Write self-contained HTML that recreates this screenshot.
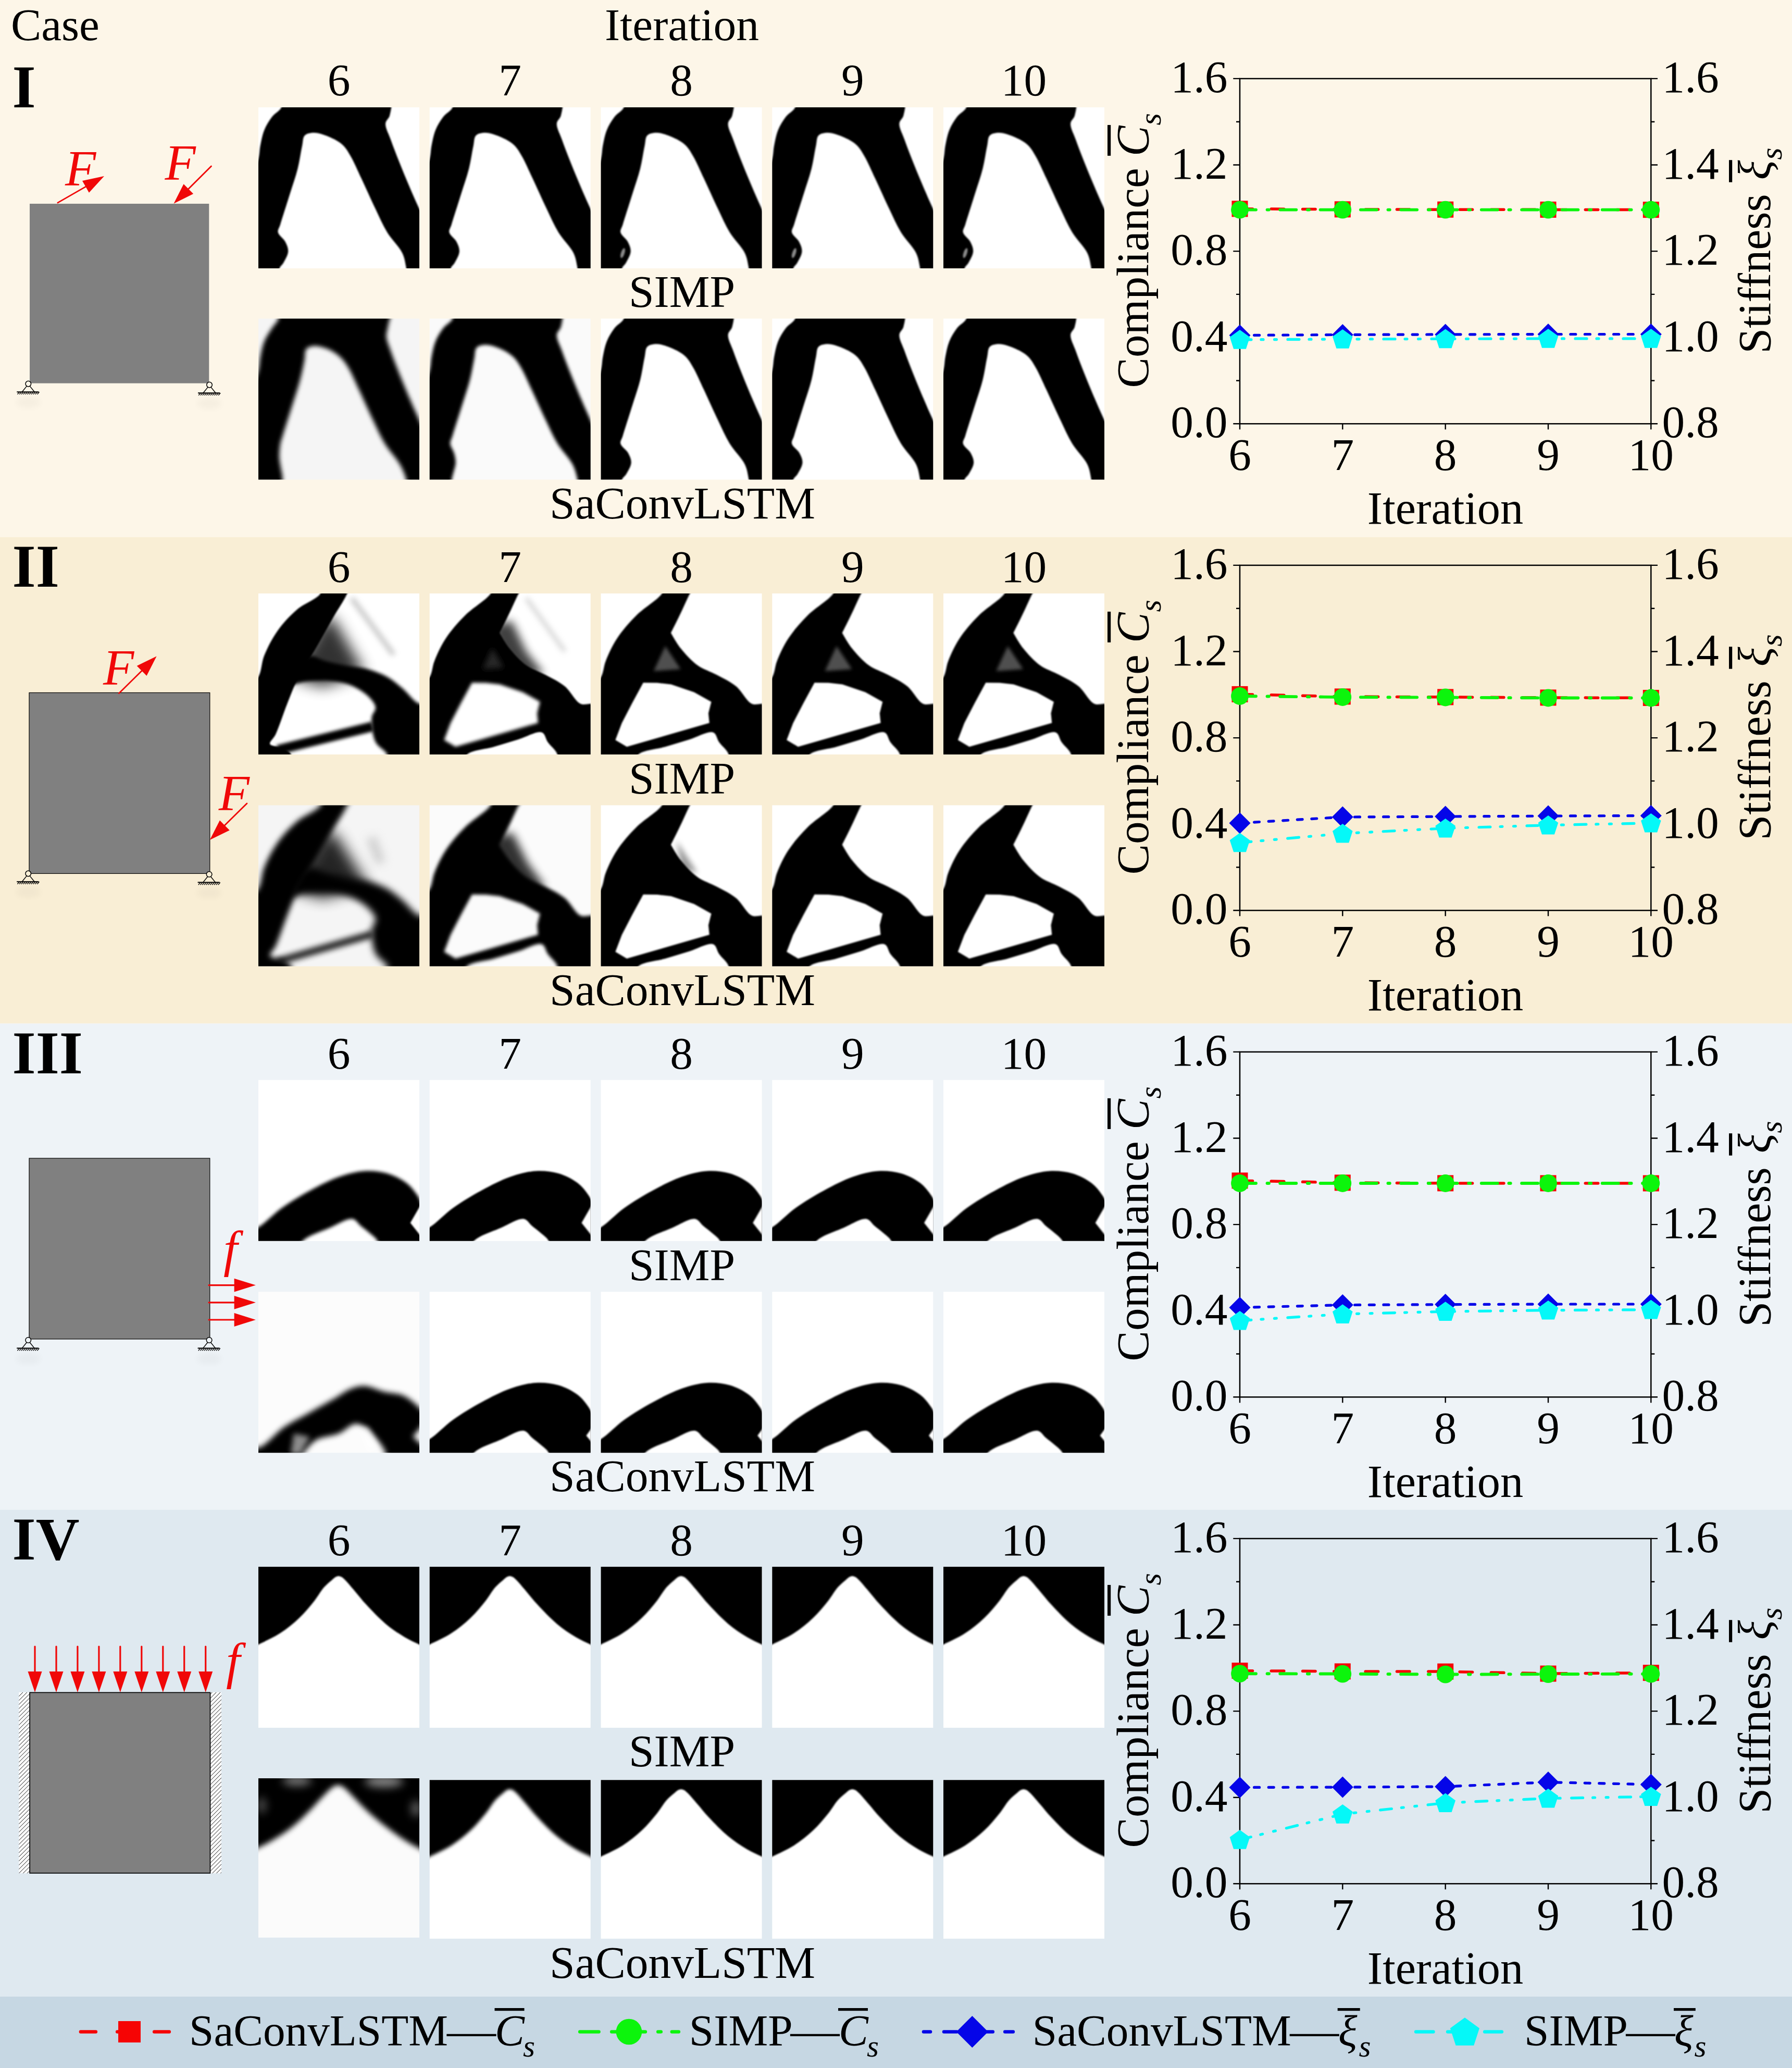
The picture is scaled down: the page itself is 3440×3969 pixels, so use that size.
<!DOCTYPE html>
<html><head><meta charset="utf-8"><title>Figure</title><style>html,body{margin:0;padding:0;background:#fff;width:3440px;height:3969px;overflow:hidden}svg{display:block}</style></head><body>
<svg width="3440" height="3969" viewBox="0 0 3440 3969" font-family="'Liberation Serif', serif" font-size="87.4" fill="#000">
<defs>
<filter id="b1" x="-10%" y="-10%" width="120%" height="120%"><feGaussianBlur stdDeviation="1.6"/></filter>
<filter id="b2" x="-10%" y="-10%" width="120%" height="120%"><feGaussianBlur stdDeviation="3"/></filter>
<filter id="b3" x="-20%" y="-20%" width="140%" height="140%"><feGaussianBlur stdDeviation="6"/></filter>
<filter id="b4" x="-20%" y="-20%" width="140%" height="140%"><feGaussianBlur stdDeviation="10"/></filter>
<filter id="b5" x="-30%" y="-30%" width="160%" height="160%"><feGaussianBlur stdDeviation="16"/></filter>
<filter id="t1" filterUnits="userSpaceOnUse" x="-30" y="-30" width="160" height="160"><feGaussianBlur stdDeviation="0.55"/></filter>
<filter id="t2" filterUnits="userSpaceOnUse" x="-30" y="-30" width="160" height="160"><feGaussianBlur stdDeviation="1.0"/></filter>
<filter id="t2b" filterUnits="userSpaceOnUse" x="-30" y="-30" width="160" height="160"><feGaussianBlur stdDeviation="1.35"/></filter>
<filter id="t3" filterUnits="userSpaceOnUse" x="-30" y="-30" width="160" height="160"><feGaussianBlur stdDeviation="1.7"/></filter>
<filter id="t3b" filterUnits="userSpaceOnUse" x="-30" y="-30" width="160" height="160"><feGaussianBlur stdDeviation="2.2"/></filter>
<filter id="t4" filterUnits="userSpaceOnUse" x="-30" y="-30" width="160" height="160"><feGaussianBlur stdDeviation="2.8"/></filter>
<filter id="t5" filterUnits="userSpaceOnUse" x="-30" y="-30" width="160" height="160"><feGaussianBlur stdDeviation="4.5"/></filter>
<pattern id="hatch" width="7.9" height="7.9" patternUnits="userSpaceOnUse" x="36" y="3248"><rect width="7.9" height="7.9" fill="#fff"/><path d="M-1,8.9 L8.9,-1 M-1,1 L1,-1 M6.9,8.9 L8.9,6.9" stroke="#000" stroke-width="0.95"/></pattern>
</defs>
<rect x="0" y="0" width="3440" height="1031" fill="#FDF6E8"/>
<rect x="0" y="1031" width="3440" height="933.5" fill="#F9EED5"/>
<rect x="0" y="1964.5" width="3440" height="933.0" fill="#EEF3F7"/>
<rect x="0" y="2897.5" width="3440" height="934.5" fill="#DFE9F0"/>
<rect x="0" y="3832" width="3440" height="137" fill="#C6D7E3"/>
<text x="21" y="76.5" text-anchor="start" >Case</text>
<text x="1309" y="76.5" text-anchor="middle" >Iteration</text>
<text x="23.5" y="205.6" text-anchor="start" font-weight="bold" font-size="116">I</text>
<text x="650.5" y="183.4" text-anchor="middle" >6</text>
<text x="979.2" y="183.4" text-anchor="middle" >7</text>
<text x="1308.0" y="183.4" text-anchor="middle" >8</text>
<text x="1636.8" y="183.4" text-anchor="middle" >9</text>
<text x="1965.5" y="183.4" text-anchor="middle" >10</text>
<text x="1309" y="589.0" text-anchor="middle" >SIMP</text>
<text x="1310" y="995.3" text-anchor="middle" >SaConvLSTM</text>
<svg x="496" y="206" width="309" height="309" viewBox="0 0 100 100" preserveAspectRatio="none"><rect x="-1" y="-1" width="102" height="102" fill="#fff"/><path d="M14.30,-6.00 C17.76,-9.46 38.48,-6.00 50.00,-6.00 C60.80,-6.00 77.44,-9.89 81.40,-6.00 C83.75,-3.70 82.28,2.11 81.60,5.00 C81.11,7.07 79.17,7.99 79.00,10.00 C78.76,12.78 80.87,16.27 82.30,20.30 C84.39,26.19 87.76,34.67 90.70,41.80 C93.66,48.97 96.77,56.15 100.00,63.20 C103.21,70.21 108.28,76.47 110.00,84.00 C111.82,91.99 113.84,106.16 110.00,110.00 C106.94,113.06 96.30,112.39 93.50,110.00 C91.31,108.13 92.58,103.26 91.90,100.00 C91.24,96.83 91.01,93.91 89.50,90.70 C87.54,86.53 82.79,82.19 80.00,77.60 C77.22,73.02 75.28,68.35 72.80,63.20 C69.97,57.32 66.75,50.03 64.00,44.20 C61.64,39.20 59.53,34.07 57.30,30.30 C55.63,27.49 54.44,25.26 52.30,23.30 C50.01,21.20 46.78,19.55 43.80,18.30 C40.87,17.07 37.31,15.77 34.60,15.80 C32.44,15.82 30.04,16.21 28.80,17.50 C27.51,18.85 27.77,21.33 27.20,23.90 C26.35,27.71 25.62,33.37 24.40,38.20 C23.12,43.30 21.30,48.27 19.60,53.70 C17.72,59.74 14.89,68.54 13.60,72.80 C12.96,74.93 11.90,75.99 12.20,77.60 C12.56,79.56 15.64,81.42 16.70,83.50 C17.67,85.41 18.61,87.43 18.50,89.50 C18.38,91.81 16.56,94.81 15.50,96.70 C14.73,98.07 13.68,98.50 13.10,100.00 C12.19,102.35 14.22,108.01 12.00,110.00 C8.72,112.94 -5.59,114.41 -10.00,110.00 C-16.65,103.35 -12.45,74.06 -10.00,60.00 C-8.12,49.19 -1.65,38.81 0.00,32.20 C0.88,28.68 0.64,26.75 1.20,23.90 C1.81,20.80 2.38,17.30 3.60,14.30 C4.80,11.34 6.54,8.44 8.40,6.00 C10.14,3.71 13.40,2.20 14.30,0.00 C15.06,-1.86 12.88,-4.58 14.30,-6.00 Z" fill="#000" filter="url(#t1)"/></svg>
<svg x="496" y="611.5" width="309" height="309" viewBox="0 0 100 100" preserveAspectRatio="none"><rect x="-1" y="-1" width="102" height="102" fill="#f5f5f5"/><path d="M12.50,-6.00 C16.07,-9.57 38.05,-6.00 50.00,-6.00 C60.93,-6.00 77.82,-9.88 81.40,-6.00 C83.52,-3.70 80.89,1.89 80.50,5.00 C80.21,7.31 79.36,8.80 79.50,11.00 C79.68,13.78 81.02,16.59 82.30,20.30 C84.27,26.02 87.76,34.67 90.70,41.80 C93.66,48.97 96.77,56.15 100.00,63.20 C103.21,70.21 108.28,76.47 110.00,84.00 C111.82,91.99 113.84,106.16 110.00,110.00 C106.94,113.06 96.30,112.39 93.50,110.00 C91.31,108.13 92.82,103.22 91.90,100.00 C90.98,96.79 89.83,93.95 88.00,90.70 C85.68,86.58 81.29,82.19 78.50,77.60 C75.72,73.02 73.78,68.35 71.30,63.20 C68.47,57.32 65.25,50.03 62.50,44.20 C60.14,39.20 58.07,33.95 55.80,30.30 C54.15,27.65 52.78,25.74 50.80,23.90 C48.79,22.03 46.41,20.34 43.80,19.20 C41.04,17.99 37.16,16.80 34.60,17.00 C32.68,17.15 30.70,17.73 29.70,19.00 C28.59,20.40 29.17,22.91 28.70,25.40 C28.04,28.94 27.07,33.76 25.90,38.20 C24.60,43.15 22.80,48.27 21.10,53.70 C19.22,59.74 16.39,68.54 15.10,72.80 C14.46,74.93 14.04,75.76 13.70,77.60 C13.26,79.99 12.92,83.33 13.00,86.00 C13.07,88.44 13.67,90.67 14.00,93.00 C14.33,95.33 15.19,97.48 15.00,100.00 C14.77,103.06 14.65,108.03 12.00,110.00 C8.15,112.87 -5.59,114.41 -10.00,110.00 C-16.65,103.35 -12.45,74.06 -10.00,60.00 C-8.12,49.19 -1.65,38.81 0.00,32.20 C0.88,28.68 0.64,26.75 1.20,23.90 C1.81,20.80 2.38,17.30 3.60,14.30 C4.80,11.34 6.82,8.52 8.40,6.00 C9.78,3.81 11.85,2.11 12.50,0.00 C13.09,-1.91 11.07,-4.57 12.50,-6.00 Z" fill="#000" filter="url(#t2b)"/></svg>
<svg x="824.7" y="206" width="309" height="309" viewBox="0 0 100 100" preserveAspectRatio="none"><rect x="-1" y="-1" width="102" height="102" fill="#fff"/><path d="M14.30,-6.00 C17.76,-9.46 38.48,-6.00 50.00,-6.00 C60.80,-6.00 77.44,-9.89 81.40,-6.00 C83.75,-3.70 82.28,2.11 81.60,5.00 C81.11,7.07 79.17,7.99 79.00,10.00 C78.76,12.78 80.87,16.27 82.30,20.30 C84.39,26.19 87.76,34.67 90.70,41.80 C93.66,48.97 96.77,56.15 100.00,63.20 C103.21,70.21 108.28,76.47 110.00,84.00 C111.82,91.99 113.84,106.16 110.00,110.00 C106.94,113.06 96.30,112.39 93.50,110.00 C91.31,108.13 92.58,103.26 91.90,100.00 C91.24,96.83 91.01,93.91 89.50,90.70 C87.54,86.53 82.79,82.19 80.00,77.60 C77.22,73.02 75.28,68.35 72.80,63.20 C69.97,57.32 66.75,50.03 64.00,44.20 C61.64,39.20 59.53,34.07 57.30,30.30 C55.63,27.49 54.44,25.26 52.30,23.30 C50.01,21.20 46.78,19.55 43.80,18.30 C40.87,17.07 37.31,15.77 34.60,15.80 C32.44,15.82 30.04,16.21 28.80,17.50 C27.51,18.85 27.77,21.33 27.20,23.90 C26.35,27.71 25.62,33.37 24.40,38.20 C23.12,43.30 21.30,48.27 19.60,53.70 C17.72,59.74 14.89,68.54 13.60,72.80 C12.96,74.93 11.90,75.99 12.20,77.60 C12.56,79.56 15.64,81.42 16.70,83.50 C17.67,85.41 18.61,87.43 18.50,89.50 C18.38,91.81 16.56,94.81 15.50,96.70 C14.73,98.07 13.68,98.50 13.10,100.00 C12.19,102.35 14.22,108.01 12.00,110.00 C8.72,112.94 -5.59,114.41 -10.00,110.00 C-16.65,103.35 -12.45,74.06 -10.00,60.00 C-8.12,49.19 -1.65,38.81 0.00,32.20 C0.88,28.68 0.64,26.75 1.20,23.90 C1.81,20.80 2.38,17.30 3.60,14.30 C4.80,11.34 6.54,8.44 8.40,6.00 C10.14,3.71 13.40,2.20 14.30,0.00 C15.06,-1.86 12.88,-4.58 14.30,-6.00 Z" fill="#000" filter="url(#t1)"/></svg>
<svg x="824.7" y="611.5" width="309" height="309" viewBox="0 0 100 100" preserveAspectRatio="none"><rect x="-1" y="-1" width="102" height="102" fill="#fafafa"/><path d="M14.30,-6.00 C17.76,-9.46 38.48,-6.00 50.00,-6.00 C60.80,-6.00 77.44,-9.89 81.40,-6.00 C83.75,-3.70 82.28,2.11 81.60,5.00 C81.11,7.07 79.17,7.99 79.00,10.00 C78.76,12.78 80.87,16.27 82.30,20.30 C84.39,26.19 87.76,34.67 90.70,41.80 C93.66,48.97 96.77,56.15 100.00,63.20 C103.21,70.21 108.28,76.47 110.00,84.00 C111.82,91.99 113.84,106.16 110.00,110.00 C106.94,113.06 96.30,112.39 93.50,110.00 C91.31,108.13 92.68,103.24 91.90,100.00 C91.14,96.81 90.54,93.93 88.90,90.70 C86.79,86.55 82.19,82.19 79.40,77.60 C76.62,73.02 74.68,68.35 72.20,63.20 C69.37,57.32 66.15,50.03 63.40,44.20 C61.04,39.20 58.95,34.02 56.70,30.30 C55.04,27.55 53.78,25.45 51.70,23.54 C49.52,21.53 46.63,19.87 43.80,18.66 C40.94,17.44 37.25,16.19 34.60,16.28 C32.54,16.35 30.30,16.82 29.16,18.10 C27.94,19.47 28.33,21.96 27.80,24.50 C27.03,28.21 26.20,33.52 25.00,38.20 C23.71,43.24 21.90,48.27 20.20,53.70 C18.32,59.74 15.49,68.54 14.20,72.80 C13.56,74.93 12.72,75.93 12.80,77.60 C12.89,79.48 14.62,81.49 15.19,83.50 C15.74,85.46 16.24,87.42 16.18,89.50 C16.10,91.80 14.99,94.76 14.53,96.70 C14.21,98.01 13.99,98.60 13.70,100.00 C13.19,102.43 14.35,108.01 12.00,110.00 C8.54,112.92 -5.59,114.41 -10.00,110.00 C-16.65,103.35 -12.45,74.06 -10.00,60.00 C-8.12,49.19 -1.65,38.81 0.00,32.20 C0.88,28.68 0.64,26.75 1.20,23.90 C1.81,20.80 2.38,17.30 3.60,14.30 C4.80,11.34 6.54,8.44 8.40,6.00 C10.14,3.71 13.40,2.20 14.30,0.00 C15.06,-1.86 12.88,-4.58 14.30,-6.00 Z" fill="#000" filter="url(#t2)"/></svg>
<svg x="1153.5" y="206" width="309" height="309" viewBox="0 0 100 100" preserveAspectRatio="none"><rect x="-1" y="-1" width="102" height="102" fill="#fff"/><path d="M14.30,-6.00 C17.76,-9.46 38.48,-6.00 50.00,-6.00 C60.80,-6.00 77.44,-9.89 81.40,-6.00 C83.75,-3.70 82.28,2.11 81.60,5.00 C81.11,7.07 79.17,7.99 79.00,10.00 C78.76,12.78 80.87,16.27 82.30,20.30 C84.39,26.19 87.76,34.67 90.70,41.80 C93.66,48.97 96.77,56.15 100.00,63.20 C103.21,70.21 108.28,76.47 110.00,84.00 C111.82,91.99 113.84,106.16 110.00,110.00 C106.94,113.06 96.30,112.39 93.50,110.00 C91.31,108.13 92.58,103.26 91.90,100.00 C91.24,96.83 91.01,93.91 89.50,90.70 C87.54,86.53 82.79,82.19 80.00,77.60 C77.22,73.02 75.28,68.35 72.80,63.20 C69.97,57.32 66.75,50.03 64.00,44.20 C61.64,39.20 59.53,34.07 57.30,30.30 C55.63,27.49 54.44,25.26 52.30,23.30 C50.01,21.20 46.78,19.55 43.80,18.30 C40.87,17.07 37.31,15.77 34.60,15.80 C32.44,15.82 30.04,16.21 28.80,17.50 C27.51,18.85 27.77,21.33 27.20,23.90 C26.35,27.71 25.62,33.37 24.40,38.20 C23.12,43.30 21.30,48.27 19.60,53.70 C17.72,59.74 14.89,68.54 13.60,72.80 C12.96,74.93 11.90,75.99 12.20,77.60 C12.56,79.56 15.64,81.42 16.70,83.50 C17.67,85.41 18.61,87.43 18.50,89.50 C18.38,91.81 16.56,94.81 15.50,96.70 C14.73,98.07 13.68,98.50 13.10,100.00 C12.19,102.35 14.22,108.01 12.00,110.00 C8.72,112.94 -5.59,114.41 -10.00,110.00 C-16.65,103.35 -12.45,74.06 -10.00,60.00 C-8.12,49.19 -1.65,38.81 0.00,32.20 C0.88,28.68 0.64,26.75 1.20,23.90 C1.81,20.80 2.38,17.30 3.60,14.30 C4.80,11.34 6.54,8.44 8.40,6.00 C10.14,3.71 13.40,2.20 14.30,0.00 C15.06,-1.86 12.88,-4.58 14.30,-6.00 Z" fill="#000" filter="url(#t1)"/><ellipse cx="13.6" cy="90.5" rx="1.1" ry="3.2" transform="rotate(18 13.6 90.5)" fill="#8a8a8a" filter="url(#t1)"/></svg>
<svg x="1153.5" y="611.5" width="309" height="309" viewBox="0 0 100 100" preserveAspectRatio="none"><rect x="-1" y="-1" width="102" height="102" fill="#fff"/><path d="M14.30,-6.00 C17.76,-9.46 38.48,-6.00 50.00,-6.00 C60.80,-6.00 77.44,-9.89 81.40,-6.00 C83.75,-3.70 82.28,2.11 81.60,5.00 C81.11,7.07 79.17,7.99 79.00,10.00 C78.76,12.78 80.87,16.27 82.30,20.30 C84.39,26.19 87.76,34.67 90.70,41.80 C93.66,48.97 96.77,56.15 100.00,63.20 C103.21,70.21 108.28,76.47 110.00,84.00 C111.82,91.99 113.84,106.16 110.00,110.00 C106.94,113.06 96.30,112.39 93.50,110.00 C91.31,108.13 92.58,103.26 91.90,100.00 C91.24,96.83 91.01,93.91 89.50,90.70 C87.54,86.53 82.79,82.19 80.00,77.60 C77.22,73.02 75.28,68.35 72.80,63.20 C69.97,57.32 66.75,50.03 64.00,44.20 C61.64,39.20 59.53,34.07 57.30,30.30 C55.63,27.49 54.44,25.26 52.30,23.30 C50.01,21.20 46.78,19.55 43.80,18.30 C40.87,17.07 37.31,15.77 34.60,15.80 C32.44,15.82 30.04,16.21 28.80,17.50 C27.51,18.85 27.77,21.33 27.20,23.90 C26.35,27.71 25.62,33.37 24.40,38.20 C23.12,43.30 21.30,48.27 19.60,53.70 C17.72,59.74 14.89,68.54 13.60,72.80 C12.96,74.93 11.88,76.00 12.20,77.60 C12.59,79.57 15.82,81.41 16.94,83.50 C17.95,85.40 18.94,87.43 18.82,89.50 C18.70,91.81 16.80,94.82 15.68,96.70 C14.86,98.07 13.71,98.49 13.10,100.00 C12.15,102.34 14.22,108.01 12.00,110.00 C8.72,112.94 -5.59,114.41 -10.00,110.00 C-16.65,103.35 -12.45,74.06 -10.00,60.00 C-8.12,49.19 -1.65,38.81 0.00,32.20 C0.88,28.68 0.64,26.75 1.20,23.90 C1.81,20.80 2.38,17.30 3.60,14.30 C4.80,11.34 6.54,8.44 8.40,6.00 C10.14,3.71 13.40,2.20 14.30,0.00 C15.06,-1.86 12.88,-4.58 14.30,-6.00 Z" fill="#000" filter="url(#t1)"/></svg>
<svg x="1482.3" y="206" width="309" height="309" viewBox="0 0 100 100" preserveAspectRatio="none"><rect x="-1" y="-1" width="102" height="102" fill="#fff"/><path d="M14.30,-6.00 C17.76,-9.46 38.48,-6.00 50.00,-6.00 C60.80,-6.00 77.44,-9.89 81.40,-6.00 C83.75,-3.70 82.28,2.11 81.60,5.00 C81.11,7.07 79.17,7.99 79.00,10.00 C78.76,12.78 80.87,16.27 82.30,20.30 C84.39,26.19 87.76,34.67 90.70,41.80 C93.66,48.97 96.77,56.15 100.00,63.20 C103.21,70.21 108.28,76.47 110.00,84.00 C111.82,91.99 113.84,106.16 110.00,110.00 C106.94,113.06 96.30,112.39 93.50,110.00 C91.31,108.13 92.58,103.26 91.90,100.00 C91.24,96.83 91.01,93.91 89.50,90.70 C87.54,86.53 82.79,82.19 80.00,77.60 C77.22,73.02 75.28,68.35 72.80,63.20 C69.97,57.32 66.75,50.03 64.00,44.20 C61.64,39.20 59.53,34.07 57.30,30.30 C55.63,27.49 54.44,25.26 52.30,23.30 C50.01,21.20 46.78,19.55 43.80,18.30 C40.87,17.07 37.31,15.77 34.60,15.80 C32.44,15.82 30.04,16.21 28.80,17.50 C27.51,18.85 27.77,21.33 27.20,23.90 C26.35,27.71 25.62,33.37 24.40,38.20 C23.12,43.30 21.30,48.27 19.60,53.70 C17.72,59.74 14.89,68.54 13.60,72.80 C12.96,74.93 11.90,75.99 12.20,77.60 C12.56,79.56 15.64,81.42 16.70,83.50 C17.67,85.41 18.61,87.43 18.50,89.50 C18.38,91.81 16.56,94.81 15.50,96.70 C14.73,98.07 13.68,98.50 13.10,100.00 C12.19,102.35 14.22,108.01 12.00,110.00 C8.72,112.94 -5.59,114.41 -10.00,110.00 C-16.65,103.35 -12.45,74.06 -10.00,60.00 C-8.12,49.19 -1.65,38.81 0.00,32.20 C0.88,28.68 0.64,26.75 1.20,23.90 C1.81,20.80 2.38,17.30 3.60,14.30 C4.80,11.34 6.54,8.44 8.40,6.00 C10.14,3.71 13.40,2.20 14.30,0.00 C15.06,-1.86 12.88,-4.58 14.30,-6.00 Z" fill="#000" filter="url(#t1)"/><ellipse cx="13.6" cy="90.5" rx="1.1" ry="3.2" transform="rotate(18 13.6 90.5)" fill="#8a8a8a" filter="url(#t1)"/></svg>
<svg x="1482.3" y="611.5" width="309" height="309" viewBox="0 0 100 100" preserveAspectRatio="none"><rect x="-1" y="-1" width="102" height="102" fill="#fff"/><path d="M14.30,-6.00 C17.76,-9.46 38.48,-6.00 50.00,-6.00 C60.80,-6.00 77.44,-9.89 81.40,-6.00 C83.75,-3.70 82.28,2.11 81.60,5.00 C81.11,7.07 79.17,7.99 79.00,10.00 C78.76,12.78 80.87,16.27 82.30,20.30 C84.39,26.19 87.76,34.67 90.70,41.80 C93.66,48.97 96.77,56.15 100.00,63.20 C103.21,70.21 108.28,76.47 110.00,84.00 C111.82,91.99 113.84,106.16 110.00,110.00 C106.94,113.06 96.30,112.39 93.50,110.00 C91.31,108.13 92.58,103.26 91.90,100.00 C91.24,96.83 91.01,93.91 89.50,90.70 C87.54,86.53 82.79,82.19 80.00,77.60 C77.22,73.02 75.28,68.35 72.80,63.20 C69.97,57.32 66.75,50.03 64.00,44.20 C61.64,39.20 59.53,34.07 57.30,30.30 C55.63,27.49 54.44,25.26 52.30,23.30 C50.01,21.20 46.78,19.55 43.80,18.30 C40.87,17.07 37.31,15.77 34.60,15.80 C32.44,15.82 30.04,16.21 28.80,17.50 C27.51,18.85 27.77,21.33 27.20,23.90 C26.35,27.71 25.62,33.37 24.40,38.20 C23.12,43.30 21.30,48.27 19.60,53.70 C17.72,59.74 14.89,68.54 13.60,72.80 C12.96,74.93 11.88,76.00 12.20,77.60 C12.59,79.57 15.82,81.41 16.94,83.50 C17.95,85.40 18.94,87.43 18.82,89.50 C18.70,91.81 16.80,94.82 15.68,96.70 C14.86,98.07 13.71,98.49 13.10,100.00 C12.15,102.34 14.22,108.01 12.00,110.00 C8.72,112.94 -5.59,114.41 -10.00,110.00 C-16.65,103.35 -12.45,74.06 -10.00,60.00 C-8.12,49.19 -1.65,38.81 0.00,32.20 C0.88,28.68 0.64,26.75 1.20,23.90 C1.81,20.80 2.38,17.30 3.60,14.30 C4.80,11.34 6.54,8.44 8.40,6.00 C10.14,3.71 13.40,2.20 14.30,0.00 C15.06,-1.86 12.88,-4.58 14.30,-6.00 Z" fill="#000" filter="url(#t1)"/></svg>
<svg x="1811" y="206" width="309" height="309" viewBox="0 0 100 100" preserveAspectRatio="none"><rect x="-1" y="-1" width="102" height="102" fill="#fff"/><path d="M14.30,-6.00 C17.76,-9.46 38.48,-6.00 50.00,-6.00 C60.80,-6.00 77.44,-9.89 81.40,-6.00 C83.75,-3.70 82.28,2.11 81.60,5.00 C81.11,7.07 79.17,7.99 79.00,10.00 C78.76,12.78 80.87,16.27 82.30,20.30 C84.39,26.19 87.76,34.67 90.70,41.80 C93.66,48.97 96.77,56.15 100.00,63.20 C103.21,70.21 108.28,76.47 110.00,84.00 C111.82,91.99 113.84,106.16 110.00,110.00 C106.94,113.06 96.30,112.39 93.50,110.00 C91.31,108.13 92.58,103.26 91.90,100.00 C91.24,96.83 91.01,93.91 89.50,90.70 C87.54,86.53 82.79,82.19 80.00,77.60 C77.22,73.02 75.28,68.35 72.80,63.20 C69.97,57.32 66.75,50.03 64.00,44.20 C61.64,39.20 59.53,34.07 57.30,30.30 C55.63,27.49 54.44,25.26 52.30,23.30 C50.01,21.20 46.78,19.55 43.80,18.30 C40.87,17.07 37.31,15.77 34.60,15.80 C32.44,15.82 30.04,16.21 28.80,17.50 C27.51,18.85 27.77,21.33 27.20,23.90 C26.35,27.71 25.62,33.37 24.40,38.20 C23.12,43.30 21.30,48.27 19.60,53.70 C17.72,59.74 14.89,68.54 13.60,72.80 C12.96,74.93 11.90,75.99 12.20,77.60 C12.56,79.56 15.64,81.42 16.70,83.50 C17.67,85.41 18.61,87.43 18.50,89.50 C18.38,91.81 16.56,94.81 15.50,96.70 C14.73,98.07 13.68,98.50 13.10,100.00 C12.19,102.35 14.22,108.01 12.00,110.00 C8.72,112.94 -5.59,114.41 -10.00,110.00 C-16.65,103.35 -12.45,74.06 -10.00,60.00 C-8.12,49.19 -1.65,38.81 0.00,32.20 C0.88,28.68 0.64,26.75 1.20,23.90 C1.81,20.80 2.38,17.30 3.60,14.30 C4.80,11.34 6.54,8.44 8.40,6.00 C10.14,3.71 13.40,2.20 14.30,0.00 C15.06,-1.86 12.88,-4.58 14.30,-6.00 Z" fill="#000" filter="url(#t1)"/><ellipse cx="13.6" cy="90.5" rx="1.1" ry="3.2" transform="rotate(18 13.6 90.5)" fill="#8a8a8a" filter="url(#t1)"/></svg>
<svg x="1811" y="611.5" width="309" height="309" viewBox="0 0 100 100" preserveAspectRatio="none"><rect x="-1" y="-1" width="102" height="102" fill="#fff"/><path d="M14.30,-6.00 C17.76,-9.46 38.48,-6.00 50.00,-6.00 C60.80,-6.00 77.44,-9.89 81.40,-6.00 C83.75,-3.70 82.28,2.11 81.60,5.00 C81.11,7.07 79.17,7.99 79.00,10.00 C78.76,12.78 80.87,16.27 82.30,20.30 C84.39,26.19 87.76,34.67 90.70,41.80 C93.66,48.97 96.77,56.15 100.00,63.20 C103.21,70.21 108.28,76.47 110.00,84.00 C111.82,91.99 113.84,106.16 110.00,110.00 C106.94,113.06 96.30,112.39 93.50,110.00 C91.31,108.13 92.58,103.26 91.90,100.00 C91.24,96.83 91.01,93.91 89.50,90.70 C87.54,86.53 82.79,82.19 80.00,77.60 C77.22,73.02 75.28,68.35 72.80,63.20 C69.97,57.32 66.75,50.03 64.00,44.20 C61.64,39.20 59.53,34.07 57.30,30.30 C55.63,27.49 54.44,25.26 52.30,23.30 C50.01,21.20 46.78,19.55 43.80,18.30 C40.87,17.07 37.31,15.77 34.60,15.80 C32.44,15.82 30.04,16.21 28.80,17.50 C27.51,18.85 27.77,21.33 27.20,23.90 C26.35,27.71 25.62,33.37 24.40,38.20 C23.12,43.30 21.30,48.27 19.60,53.70 C17.72,59.74 14.89,68.54 13.60,72.80 C12.96,74.93 11.88,76.00 12.20,77.60 C12.59,79.57 15.82,81.41 16.94,83.50 C17.95,85.40 18.94,87.43 18.82,89.50 C18.70,91.81 16.80,94.82 15.68,96.70 C14.86,98.07 13.71,98.49 13.10,100.00 C12.15,102.34 14.22,108.01 12.00,110.00 C8.72,112.94 -5.59,114.41 -10.00,110.00 C-16.65,103.35 -12.45,74.06 -10.00,60.00 C-8.12,49.19 -1.65,38.81 0.00,32.20 C0.88,28.68 0.64,26.75 1.20,23.90 C1.81,20.80 2.38,17.30 3.60,14.30 C4.80,11.34 6.54,8.44 8.40,6.00 C10.14,3.71 13.40,2.20 14.30,0.00 C15.06,-1.86 12.88,-4.58 14.30,-6.00 Z" fill="#000" filter="url(#t1)"/></svg>
<text x="23.5" y="1125.9" text-anchor="start" font-weight="bold" font-size="116">II</text>
<text x="650.5" y="1117.2" text-anchor="middle" >6</text>
<text x="979.2" y="1117.2" text-anchor="middle" >7</text>
<text x="1308.0" y="1117.2" text-anchor="middle" >8</text>
<text x="1636.8" y="1117.2" text-anchor="middle" >9</text>
<text x="1965.5" y="1117.2" text-anchor="middle" >10</text>
<text x="1309" y="1522.8" text-anchor="middle" >SIMP</text>
<text x="1310" y="1928.7" text-anchor="middle" >SaConvLSTM</text>
<svg x="496" y="1139" width="309" height="309" viewBox="0 0 100 100" preserveAspectRatio="none"><rect x="-1" y="-1" width="102" height="102" fill="#fff"/><path d="M58,3 L84,38" stroke="#999" stroke-width="3" opacity=".55" filter="url(#t3)"/><path d="M42.00,14.00 L47.00,16.00 L66.00,49.00 L40.00,58.00 L20.00,52.00 Z" fill="#000" opacity="0.8" filter="url(#t5)"/><path d="M20.00,56.00 C20.87,57.36 26.21,54.91 29.80,54.60 C34.13,54.23 39.65,53.83 44.20,54.20 C48.38,54.54 52.26,55.02 56.10,56.50 C60.21,58.08 65.11,60.96 68.00,63.70 C70.27,65.85 72.53,68.44 72.80,70.80 C73.03,72.88 70.68,74.43 70.40,77.00 C69.98,80.92 70.84,88.29 72.80,92.30 C74.41,95.61 78.88,97.17 80.00,100.00 C80.97,102.47 78.24,106.12 80.00,108.00 C83.40,111.64 104.60,115.05 110.00,110.00 C116.35,104.06 114.55,73.05 110.00,68.50 C107.76,66.26 103.15,69.72 100.00,68.50 C96.24,67.04 92.98,61.78 89.50,58.90 C86.32,56.27 83.49,53.76 80.00,51.80 C76.35,49.76 72.24,48.19 68.00,47.00 C63.51,45.74 58.24,45.48 53.70,44.60 C49.54,43.80 45.66,42.96 41.80,42.00 C38.10,41.08 34.23,37.77 31.00,39.00 C26.66,40.65 18.76,54.06 20.00,56.00 Z" fill="#000" filter="url(#t2)"/><path d="M12,97.2 L71,82.6" stroke="#000" stroke-width="6" filter="url(#t2)"/><path d="M-8.00,108.00 C-14.93,101.07 -11.67,69.01 -8.00,60.00 C-6.21,55.60 -1.92,55.14 0.00,51.80 C2.09,48.16 1.82,43.15 3.60,38.70 C5.62,33.64 8.53,27.96 11.90,23.20 C15.29,18.42 19.47,13.89 23.90,10.10 C28.25,6.38 35.45,3.91 38.20,0.60 C39.98,-1.54 39.01,-4.68 41.00,-6.00 C43.97,-7.97 55.53,-8.02 57.00,-6.00 C57.97,-4.67 56.04,-1.95 54.90,0.60 C53.14,4.54 49.44,9.78 46.50,14.90 C43.12,20.77 39.42,27.69 35.80,33.90 C32.25,39.98 28.05,45.83 25.00,51.80 C22.16,57.36 20.22,62.73 17.90,68.50 C15.45,74.61 12.84,83.00 10.70,87.50 C9.45,90.13 6.67,92.12 7.20,93.50 C7.75,94.93 12.11,94.71 14.30,95.80 C16.47,96.88 19.32,98.04 20.30,100.00 C21.32,102.05 21.80,106.26 20.00,108.00 C16.63,111.25 -2.71,113.29 -8.00,108.00 Z" fill="#000" filter="url(#t1)"/></svg>
<svg x="496" y="1545.5" width="309" height="309" viewBox="0 0 100 100" preserveAspectRatio="none"><rect x="-1" y="-1" width="102" height="102" fill="#f5f5f5"/><path d="M70,20 L76,36" stroke="#aaa" stroke-width="6" opacity=".5" filter="url(#t4)"/><path d="M42.00,16.00 L48.00,18.00 L68.00,50.00 L40.00,58.00 L20.00,52.00 Z" fill="#000" opacity="0.85" filter="url(#t5)"/><path d="M20.00,56.00 C20.87,57.36 26.21,54.91 29.80,54.60 C34.13,54.23 39.65,53.83 44.20,54.20 C48.38,54.54 52.26,55.02 56.10,56.50 C60.21,58.08 65.11,60.96 68.00,63.70 C70.27,65.85 72.53,68.44 72.80,70.80 C73.03,72.88 70.68,74.43 70.40,77.00 C69.98,80.92 70.84,88.29 72.80,92.30 C74.41,95.61 78.88,97.17 80.00,100.00 C80.97,102.47 78.24,106.12 80.00,108.00 C83.40,111.64 104.60,115.05 110.00,110.00 C116.35,104.06 114.55,73.05 110.00,68.50 C107.76,66.26 103.15,69.72 100.00,68.50 C96.24,67.04 92.98,61.78 89.50,58.90 C86.32,56.27 83.49,53.76 80.00,51.80 C76.35,49.76 72.24,48.19 68.00,47.00 C63.51,45.74 58.24,45.48 53.70,44.60 C49.54,43.80 45.66,42.96 41.80,42.00 C38.10,41.08 34.23,37.77 31.00,39.00 C26.66,40.65 18.76,54.06 20.00,56.00 Z" fill="#000" filter="url(#t3b)"/><path d="M12,97 L71,80" stroke="#000" stroke-width="4.5" opacity=".85" filter="url(#t3)"/><path d="M-8.00,108.00 C-14.93,101.07 -11.67,69.01 -8.00,60.00 C-6.21,55.60 -1.92,55.14 0.00,51.80 C2.09,48.16 1.82,43.15 3.60,38.70 C5.62,33.64 8.53,27.96 11.90,23.20 C15.29,18.42 19.47,13.89 23.90,10.10 C28.25,6.38 35.45,3.91 38.20,0.60 C39.98,-1.54 39.01,-4.68 41.00,-6.00 C43.97,-7.97 55.53,-8.02 57.00,-6.00 C57.97,-4.67 56.04,-1.95 54.90,0.60 C53.14,4.54 49.44,9.78 46.50,14.90 C43.12,20.77 39.42,27.69 35.80,33.90 C32.25,39.98 28.05,45.83 25.00,51.80 C22.16,57.36 20.22,62.73 17.90,68.50 C15.45,74.61 12.84,83.00 10.70,87.50 C9.45,90.13 6.67,92.12 7.20,93.50 C7.75,94.93 12.11,94.71 14.30,95.80 C16.47,96.88 19.32,98.04 20.30,100.00 C21.32,102.05 21.80,106.26 20.00,108.00 C16.63,111.25 -2.71,113.29 -8.00,108.00 Z" fill="#000" filter="url(#t3)"/></svg>
<svg x="824.7" y="1139" width="309" height="309" viewBox="0 0 100 100" preserveAspectRatio="none"><rect x="-1" y="-1" width="102" height="102" fill="#fff"/><path d="M60,3 L84,36" stroke="#aaa" stroke-width="2.5" opacity=".5" filter="url(#t3)"/><path d="M38.00,20.00 L44.00,40.00 L60.00,52.00 L71.00,50.00 L60.00,36.00 L51.00,17.00 Z" fill="#000" opacity="0.75" filter="url(#t4)"/><path d="M-8.00,108.00 C-14.93,101.07 -11.70,68.93 -8.00,60.00 C-6.20,55.67 -1.84,55.08 0.00,52.00 C1.77,49.04 1.59,45.55 3.00,42.00 C4.72,37.66 7.03,32.52 10.00,28.00 C13.24,23.06 17.52,18.18 22.00,13.70 C26.68,9.02 34.47,4.52 37.60,0.60 C39.49,-1.76 38.82,-4.67 41.00,-6.00 C44.35,-8.05 57.27,-8.04 58.50,-6.00 C59.30,-4.67 56.20,-1.81 55.00,0.60 C53.58,3.44 52.00,7.05 50.60,10.00 C49.35,12.64 48.20,15.05 47.00,17.50 C45.83,19.88 43.50,24.50 43.50,24.50 C43.50,24.50 43.50,24.50 43.50,24.50 C43.50,24.50 47.02,30.88 49.50,34.00 C52.36,37.60 56.13,41.80 60.00,44.60 C63.67,47.26 68.04,48.44 72.00,50.60 C76.04,52.80 80.41,54.76 84.00,57.70 C87.66,60.70 90.49,67.07 93.70,68.50 C95.81,69.44 97.66,68.50 100.00,68.50 C102.95,68.50 107.76,66.26 110.00,68.50 C114.55,73.05 116.39,103.61 110.00,110.00 C104.51,115.49 83.11,113.71 79.40,110.00 C77.28,107.88 80.42,102.96 79.40,100.00 C78.39,97.07 75.08,94.76 73.40,92.30 C71.97,90.22 71.85,87.10 69.80,86.30 C66.75,85.11 59.95,89.22 55.00,90.70 C50.02,92.19 45.14,93.69 40.00,95.20 C34.59,96.79 26.52,97.12 23.30,100.00 C21.03,102.03 22.56,106.29 20.00,108.00 C15.39,111.08 -2.71,113.29 -8.00,108.00 Z" fill="#000" filter="url(#t1)"/><path d="M9.00,91.00 L13.00,80.50 L19.50,68.00 L26.30,55.40 L35.00,55.50 L43.60,56.50 L57.90,61.30 L68.60,67.30 L66.80,74.40 L67.40,80.40 L50.00,85.40 L33.00,90.40 L16.10,95.20 Z" fill="#fff" filter="url(#t2)"/><path d="M39.00,34.00 L33.00,47.00 L46.00,46.00 Z" fill="#262626" filter="url(#t3)"/></svg>
<svg x="824.7" y="1545.5" width="309" height="309" viewBox="0 0 100 100" preserveAspectRatio="none"><rect x="-1" y="-1" width="102" height="102" fill="#fbfbfb"/><path d="M38.00,20.00 L44.00,40.00 L60.00,52.00 L72.00,51.00 L61.00,36.00 L51.50,17.00 Z" fill="#000" opacity="0.8" filter="url(#t4)"/><path d="M-8.00,108.00 C-14.93,101.07 -11.70,68.93 -8.00,60.00 C-6.20,55.67 -1.84,55.08 0.00,52.00 C1.77,49.04 1.59,45.55 3.00,42.00 C4.72,37.66 7.03,32.52 10.00,28.00 C13.24,23.06 17.52,18.18 22.00,13.70 C26.68,9.02 34.47,4.52 37.60,0.60 C39.49,-1.76 38.82,-4.67 41.00,-6.00 C44.35,-8.05 57.27,-8.04 58.50,-6.00 C59.30,-4.67 56.20,-1.81 55.00,0.60 C53.58,3.44 52.00,7.05 50.60,10.00 C49.35,12.64 48.20,15.05 47.00,17.50 C45.83,19.88 43.50,24.50 43.50,24.50 C43.50,24.50 43.50,24.50 43.50,24.50 C43.50,24.50 47.02,30.88 49.50,34.00 C52.36,37.60 56.13,41.80 60.00,44.60 C63.67,47.26 68.04,48.44 72.00,50.60 C76.04,52.80 80.41,54.76 84.00,57.70 C87.66,60.70 90.49,67.07 93.70,68.50 C95.81,69.44 97.66,68.50 100.00,68.50 C102.95,68.50 107.76,66.26 110.00,68.50 C114.55,73.05 116.39,103.61 110.00,110.00 C104.51,115.49 83.11,113.71 79.40,110.00 C77.28,107.88 80.42,102.96 79.40,100.00 C78.39,97.07 75.08,94.76 73.40,92.30 C71.97,90.22 71.85,87.10 69.80,86.30 C66.75,85.11 59.95,89.22 55.00,90.70 C50.02,92.19 45.14,93.69 40.00,95.20 C34.59,96.79 26.52,97.12 23.30,100.00 C21.03,102.03 22.56,106.29 20.00,108.00 C15.39,111.08 -2.71,113.29 -8.00,108.00 Z" fill="#000" filter="url(#t2)"/><path d="M9.00,91.00 L13.00,80.50 L19.50,68.00 L26.30,55.40 L35.00,55.50 L43.60,56.50 L57.90,61.30 L68.60,67.30 L66.80,74.40 L67.40,80.40 L50.00,85.40 L33.00,90.40 L16.10,95.20 Z" fill="#fbfbfb" filter="url(#t2)"/></svg>
<svg x="1153.5" y="1139" width="309" height="309" viewBox="0 0 100 100" preserveAspectRatio="none"><rect x="-1" y="-1" width="102" height="102" fill="#fff"/><path d="M-8.00,108.00 C-14.93,101.07 -11.70,68.93 -8.00,60.00 C-6.20,55.67 -1.84,55.08 0.00,52.00 C1.77,49.04 1.59,45.55 3.00,42.00 C4.72,37.66 7.03,32.52 10.00,28.00 C13.24,23.06 17.52,18.18 22.00,13.70 C26.68,9.02 34.47,4.52 37.60,0.60 C39.49,-1.76 38.82,-4.67 41.00,-6.00 C44.35,-8.05 57.27,-8.04 58.50,-6.00 C59.30,-4.67 56.20,-1.81 55.00,0.60 C53.58,3.44 52.00,7.05 50.60,10.00 C49.35,12.64 48.20,15.05 47.00,17.50 C45.83,19.88 43.50,24.50 43.50,24.50 C43.50,24.50 43.50,24.50 43.50,24.50 C43.50,24.50 47.02,30.88 49.50,34.00 C52.36,37.60 56.13,41.80 60.00,44.60 C63.67,47.26 68.04,48.44 72.00,50.60 C76.04,52.80 80.41,54.76 84.00,57.70 C87.66,60.70 90.49,67.07 93.70,68.50 C95.81,69.44 97.66,68.50 100.00,68.50 C102.95,68.50 107.76,66.26 110.00,68.50 C114.55,73.05 116.39,103.61 110.00,110.00 C104.51,115.49 83.11,113.71 79.40,110.00 C77.28,107.88 80.42,102.96 79.40,100.00 C78.39,97.07 75.08,94.76 73.40,92.30 C71.97,90.22 71.85,87.10 69.80,86.30 C66.75,85.11 59.95,89.22 55.00,90.70 C50.02,92.19 45.14,93.69 40.00,95.20 C34.59,96.79 26.52,97.12 23.30,100.00 C21.03,102.03 22.56,106.29 20.00,108.00 C15.39,111.08 -2.71,113.29 -8.00,108.00 Z" fill="#000" filter="url(#t1)"/><path d="M9.00,91.00 L13.00,80.50 L19.50,68.00 L26.30,55.40 L35.00,55.50 L43.60,56.50 L57.90,61.30 L68.60,67.30 L66.80,74.40 L67.40,80.40 L50.00,85.40 L33.00,90.40 L16.10,95.20 Z" fill="#fff" filter="url(#t1)"/><path d="M40.00,32.70 L32.80,48.20 L49.50,47.00 Z" fill="#505050" filter="url(#t2)"/></svg>
<svg x="1153.5" y="1545.5" width="309" height="309" viewBox="0 0 100 100" preserveAspectRatio="none"><rect x="-1" y="-1" width="102" height="102" fill="#fff"/><path d="M-8.00,108.00 C-14.93,101.07 -11.70,68.93 -8.00,60.00 C-6.20,55.67 -1.84,55.08 0.00,52.00 C1.77,49.04 1.59,45.55 3.00,42.00 C4.72,37.66 7.03,32.52 10.00,28.00 C13.24,23.06 17.52,18.18 22.00,13.70 C26.68,9.02 34.47,4.52 37.60,0.60 C39.49,-1.76 38.82,-4.67 41.00,-6.00 C44.35,-8.05 57.27,-8.04 58.50,-6.00 C59.30,-4.67 56.20,-1.81 55.00,0.60 C53.58,3.44 52.00,7.05 50.60,10.00 C49.35,12.64 48.20,15.05 47.00,17.50 C45.83,19.88 43.50,24.50 43.50,24.50 C43.50,24.50 43.50,24.50 43.50,24.50 C43.50,24.50 47.02,30.88 49.50,34.00 C52.36,37.60 56.13,41.80 60.00,44.60 C63.67,47.26 68.04,48.44 72.00,50.60 C76.04,52.80 80.41,54.76 84.00,57.70 C87.66,60.70 90.49,67.07 93.70,68.50 C95.81,69.44 97.66,68.50 100.00,68.50 C102.95,68.50 107.76,66.26 110.00,68.50 C114.55,73.05 116.39,103.61 110.00,110.00 C104.51,115.49 83.11,113.71 79.40,110.00 C77.28,107.88 80.42,102.96 79.40,100.00 C78.39,97.07 75.08,94.76 73.40,92.30 C71.97,90.22 71.85,87.10 69.80,86.30 C66.75,85.11 59.95,89.22 55.00,90.70 C50.02,92.19 45.14,93.69 40.00,95.20 C34.59,96.79 26.52,97.12 23.30,100.00 C21.03,102.03 22.56,106.29 20.00,108.00 C15.39,111.08 -2.71,113.29 -8.00,108.00 Z" fill="#000" filter="url(#t1)"/><path d="M9.00,91.00 L13.00,80.50 L19.50,68.00 L26.30,55.40 L35.00,55.50 L43.60,56.50 L57.90,61.30 L68.60,67.30 L66.80,74.40 L67.40,80.40 L50.00,85.40 L33.00,90.40 L16.10,95.20 Z" fill="#fff" filter="url(#t1)"/><path d="M47.00,22.00 L60.00,42.00 L50.00,40.00 Z" fill="#000" opacity="0.4" filter="url(#t3)"/></svg>
<svg x="1482.3" y="1139" width="309" height="309" viewBox="0 0 100 100" preserveAspectRatio="none"><rect x="-1" y="-1" width="102" height="102" fill="#fff"/><path d="M-8.00,108.00 C-14.93,101.07 -11.70,68.93 -8.00,60.00 C-6.20,55.67 -1.84,55.08 0.00,52.00 C1.77,49.04 1.59,45.55 3.00,42.00 C4.72,37.66 7.03,32.52 10.00,28.00 C13.24,23.06 17.52,18.18 22.00,13.70 C26.68,9.02 34.47,4.52 37.60,0.60 C39.49,-1.76 38.82,-4.67 41.00,-6.00 C44.35,-8.05 57.27,-8.04 58.50,-6.00 C59.30,-4.67 56.20,-1.81 55.00,0.60 C53.58,3.44 52.00,7.05 50.60,10.00 C49.35,12.64 48.20,15.05 47.00,17.50 C45.83,19.88 43.50,24.50 43.50,24.50 C43.50,24.50 43.50,24.50 43.50,24.50 C43.50,24.50 47.02,30.88 49.50,34.00 C52.36,37.60 56.13,41.80 60.00,44.60 C63.67,47.26 68.04,48.44 72.00,50.60 C76.04,52.80 80.41,54.76 84.00,57.70 C87.66,60.70 90.49,67.07 93.70,68.50 C95.81,69.44 97.66,68.50 100.00,68.50 C102.95,68.50 107.76,66.26 110.00,68.50 C114.55,73.05 116.39,103.61 110.00,110.00 C104.51,115.49 83.11,113.71 79.40,110.00 C77.28,107.88 80.42,102.96 79.40,100.00 C78.39,97.07 75.08,94.76 73.40,92.30 C71.97,90.22 71.85,87.10 69.80,86.30 C66.75,85.11 59.95,89.22 55.00,90.70 C50.02,92.19 45.14,93.69 40.00,95.20 C34.59,96.79 26.52,97.12 23.30,100.00 C21.03,102.03 22.56,106.29 20.00,108.00 C15.39,111.08 -2.71,113.29 -8.00,108.00 Z" fill="#000" filter="url(#t1)"/><path d="M9.00,91.00 L13.00,80.50 L19.50,68.00 L26.30,55.40 L35.00,55.50 L43.60,56.50 L57.90,61.30 L68.60,67.30 L66.80,74.40 L67.40,80.40 L50.00,85.40 L33.00,90.40 L16.10,95.20 Z" fill="#fff" filter="url(#t1)"/><path d="M40.00,32.70 L32.80,48.20 L49.50,47.00 Z" fill="#505050" filter="url(#t2)"/></svg>
<svg x="1482.3" y="1545.5" width="309" height="309" viewBox="0 0 100 100" preserveAspectRatio="none"><rect x="-1" y="-1" width="102" height="102" fill="#fff"/><path d="M-8.00,108.00 C-14.93,101.07 -11.70,68.93 -8.00,60.00 C-6.20,55.67 -1.84,55.08 0.00,52.00 C1.77,49.04 1.59,45.55 3.00,42.00 C4.72,37.66 7.03,32.52 10.00,28.00 C13.24,23.06 17.52,18.18 22.00,13.70 C26.68,9.02 34.47,4.52 37.60,0.60 C39.49,-1.76 38.82,-4.67 41.00,-6.00 C44.35,-8.05 57.27,-8.04 58.50,-6.00 C59.30,-4.67 56.20,-1.81 55.00,0.60 C53.58,3.44 52.00,7.05 50.60,10.00 C49.35,12.64 48.20,15.05 47.00,17.50 C45.83,19.88 43.50,24.50 43.50,24.50 C43.50,24.50 43.50,24.50 43.50,24.50 C43.50,24.50 47.02,30.88 49.50,34.00 C52.36,37.60 56.13,41.80 60.00,44.60 C63.67,47.26 68.04,48.44 72.00,50.60 C76.04,52.80 80.41,54.76 84.00,57.70 C87.66,60.70 90.49,67.07 93.70,68.50 C95.81,69.44 97.66,68.50 100.00,68.50 C102.95,68.50 107.76,66.26 110.00,68.50 C114.55,73.05 116.39,103.61 110.00,110.00 C104.51,115.49 83.11,113.71 79.40,110.00 C77.28,107.88 80.42,102.96 79.40,100.00 C78.39,97.07 75.08,94.76 73.40,92.30 C71.97,90.22 71.85,87.10 69.80,86.30 C66.75,85.11 59.95,89.22 55.00,90.70 C50.02,92.19 45.14,93.69 40.00,95.20 C34.59,96.79 26.52,97.12 23.30,100.00 C21.03,102.03 22.56,106.29 20.00,108.00 C15.39,111.08 -2.71,113.29 -8.00,108.00 Z" fill="#000" filter="url(#t1)"/><path d="M9.00,91.00 L13.00,80.50 L19.50,68.00 L26.30,55.40 L35.00,55.50 L43.60,56.50 L57.90,61.30 L68.60,67.30 L66.80,74.40 L67.40,80.40 L50.00,85.40 L33.00,90.40 L16.10,95.20 Z" fill="#fff" filter="url(#t1)"/></svg>
<svg x="1811" y="1139" width="309" height="309" viewBox="0 0 100 100" preserveAspectRatio="none"><rect x="-1" y="-1" width="102" height="102" fill="#fff"/><path d="M-8.00,108.00 C-14.93,101.07 -11.70,68.93 -8.00,60.00 C-6.20,55.67 -1.84,55.08 0.00,52.00 C1.77,49.04 1.59,45.55 3.00,42.00 C4.72,37.66 7.03,32.52 10.00,28.00 C13.24,23.06 17.52,18.18 22.00,13.70 C26.68,9.02 34.47,4.52 37.60,0.60 C39.49,-1.76 38.82,-4.67 41.00,-6.00 C44.35,-8.05 57.27,-8.04 58.50,-6.00 C59.30,-4.67 56.20,-1.81 55.00,0.60 C53.58,3.44 52.00,7.05 50.60,10.00 C49.35,12.64 48.20,15.05 47.00,17.50 C45.83,19.88 43.50,24.50 43.50,24.50 C43.50,24.50 43.50,24.50 43.50,24.50 C43.50,24.50 47.02,30.88 49.50,34.00 C52.36,37.60 56.13,41.80 60.00,44.60 C63.67,47.26 68.04,48.44 72.00,50.60 C76.04,52.80 80.41,54.76 84.00,57.70 C87.66,60.70 90.49,67.07 93.70,68.50 C95.81,69.44 97.66,68.50 100.00,68.50 C102.95,68.50 107.76,66.26 110.00,68.50 C114.55,73.05 116.39,103.61 110.00,110.00 C104.51,115.49 83.11,113.71 79.40,110.00 C77.28,107.88 80.42,102.96 79.40,100.00 C78.39,97.07 75.08,94.76 73.40,92.30 C71.97,90.22 71.85,87.10 69.80,86.30 C66.75,85.11 59.95,89.22 55.00,90.70 C50.02,92.19 45.14,93.69 40.00,95.20 C34.59,96.79 26.52,97.12 23.30,100.00 C21.03,102.03 22.56,106.29 20.00,108.00 C15.39,111.08 -2.71,113.29 -8.00,108.00 Z" fill="#000" filter="url(#t1)"/><path d="M9.00,91.00 L13.00,80.50 L19.50,68.00 L26.30,55.40 L35.00,55.50 L43.60,56.50 L57.90,61.30 L68.60,67.30 L66.80,74.40 L67.40,80.40 L50.00,85.40 L33.00,90.40 L16.10,95.20 Z" fill="#fff" filter="url(#t1)"/><path d="M40.00,32.70 L32.80,48.20 L49.50,47.00 Z" fill="#505050" filter="url(#t2)"/></svg>
<svg x="1811" y="1545.5" width="309" height="309" viewBox="0 0 100 100" preserveAspectRatio="none"><rect x="-1" y="-1" width="102" height="102" fill="#fff"/><path d="M-8.00,108.00 C-14.93,101.07 -11.70,68.93 -8.00,60.00 C-6.20,55.67 -1.84,55.08 0.00,52.00 C1.77,49.04 1.59,45.55 3.00,42.00 C4.72,37.66 7.03,32.52 10.00,28.00 C13.24,23.06 17.52,18.18 22.00,13.70 C26.68,9.02 34.47,4.52 37.60,0.60 C39.49,-1.76 38.82,-4.67 41.00,-6.00 C44.35,-8.05 57.27,-8.04 58.50,-6.00 C59.30,-4.67 56.20,-1.81 55.00,0.60 C53.58,3.44 52.00,7.05 50.60,10.00 C49.35,12.64 48.20,15.05 47.00,17.50 C45.83,19.88 43.50,24.50 43.50,24.50 C43.50,24.50 43.50,24.50 43.50,24.50 C43.50,24.50 47.02,30.88 49.50,34.00 C52.36,37.60 56.13,41.80 60.00,44.60 C63.67,47.26 68.04,48.44 72.00,50.60 C76.04,52.80 80.41,54.76 84.00,57.70 C87.66,60.70 90.49,67.07 93.70,68.50 C95.81,69.44 97.66,68.50 100.00,68.50 C102.95,68.50 107.76,66.26 110.00,68.50 C114.55,73.05 116.39,103.61 110.00,110.00 C104.51,115.49 83.11,113.71 79.40,110.00 C77.28,107.88 80.42,102.96 79.40,100.00 C78.39,97.07 75.08,94.76 73.40,92.30 C71.97,90.22 71.85,87.10 69.80,86.30 C66.75,85.11 59.95,89.22 55.00,90.70 C50.02,92.19 45.14,93.69 40.00,95.20 C34.59,96.79 26.52,97.12 23.30,100.00 C21.03,102.03 22.56,106.29 20.00,108.00 C15.39,111.08 -2.71,113.29 -8.00,108.00 Z" fill="#000" filter="url(#t1)"/><path d="M9.00,91.00 L13.00,80.50 L19.50,68.00 L26.30,55.40 L35.00,55.50 L43.60,56.50 L57.90,61.30 L68.60,67.30 L66.80,74.40 L67.40,80.40 L50.00,85.40 L33.00,90.40 L16.10,95.20 Z" fill="#fff" filter="url(#t1)"/></svg>
<text x="23.5" y="2059.7" text-anchor="start" font-weight="bold" font-size="116">III</text>
<text x="650.5" y="2051.0" text-anchor="middle" >6</text>
<text x="979.2" y="2051.0" text-anchor="middle" >7</text>
<text x="1308.0" y="2051.0" text-anchor="middle" >8</text>
<text x="1636.8" y="2051.0" text-anchor="middle" >9</text>
<text x="1965.5" y="2051.0" text-anchor="middle" >10</text>
<text x="1309" y="2456.6" text-anchor="middle" >SIMP</text>
<text x="1310" y="2862.1" text-anchor="middle" >SaConvLSTM</text>
<svg x="496" y="2072.8" width="309" height="309" viewBox="0 0 100 100" preserveAspectRatio="none"><rect x="-1" y="-1" width="102" height="102" fill="#fff"/><path d="M-8.00,108.00 C-10.65,105.35 -9.79,97.73 -8.00,95.00 C-6.53,92.76 -2.92,93.30 0.00,91.50 C4.29,88.86 9.27,83.24 14.50,79.50 C20.02,75.55 26.35,71.77 32.40,68.50 C38.26,65.33 44.33,62.13 50.20,60.10 C55.52,58.26 60.87,56.80 66.00,56.50 C70.78,56.22 75.62,56.72 80.00,58.00 C84.27,59.25 88.73,61.47 92.00,64.00 C94.91,66.25 97.13,69.21 99.00,72.00 C100.72,74.56 101.32,77.92 103.00,80.00 C104.42,81.76 106.90,81.71 108.00,84.00 C110.13,88.43 112.32,103.68 108.00,108.00 C102.94,113.06 79.09,111.61 75.00,108.00 C72.98,106.22 75.08,102.21 74.00,100.00 C72.99,97.93 70.75,96.58 69.00,95.00 C67.25,93.41 65.27,91.98 63.50,90.50 C61.81,89.09 60.81,86.68 58.60,86.30 C55.20,85.71 49.21,89.66 44.30,91.80 C38.88,94.16 30.79,96.57 27.50,100.00 C25.25,102.34 26.68,106.25 24.00,108.00 C18.87,111.35 -3.85,112.15 -8.00,108.00 Z" fill="#000" filter="url(#t2)"/><path d="M106.00,68.60 L94.40,88.70 L106.00,103.40 Z" fill="#fff" filter="url(#t1)"/></svg>
<svg x="496" y="2479.3" width="309" height="309" viewBox="0 0 100 100" preserveAspectRatio="none"><rect x="-1" y="-1" width="102" height="102" fill="#fcfcfc"/><path d="M-8.00,108.00 C-9.94,106.06 -9.49,101.00 -8.00,99.00 C-6.40,96.84 -1.41,97.86 2.00,96.00 C6.53,93.52 11.17,87.41 16.00,84.00 C20.52,80.81 25.17,78.74 30.00,76.00 C35.15,73.08 41.06,69.83 46.00,67.00 C50.30,64.54 54.29,61.38 58.00,60.00 C60.84,58.94 63.08,58.36 66.00,58.50 C69.62,58.68 73.98,61.00 78.00,62.00 C81.98,62.99 86.35,62.85 90.00,64.50 C93.69,66.17 97.01,69.11 100.00,72.00 C103.02,74.93 106.43,77.53 108.00,82.00 C110.23,88.36 112.41,103.59 108.00,108.00 C103.42,112.58 83.66,111.23 80.00,108.00 C78.03,106.26 79.91,102.57 79.00,100.00 C78.01,97.22 76.03,94.56 74.00,92.00 C71.77,89.20 68.67,85.65 66.00,84.00 C64.00,82.77 62.19,81.76 60.00,82.00 C57.02,82.33 53.73,86.38 50.00,88.00 C45.83,89.81 39.79,89.77 36.00,92.00 C32.66,93.97 30.39,97.25 28.00,100.00 C25.75,102.59 25.38,106.31 22.00,108.00 C16.14,110.93 -4.46,111.54 -8.00,108.00 Z" fill="#000" filter="url(#t3)"/><path d="M62.00,85.00 L68.00,84.00 L74.00,97.00 L68.00,100.00 Z" fill="#fff" opacity="0.6" filter="url(#t3)"/><path d="M22.00,88.00 L32.00,90.00 L26.00,101.00 L20.00,101.00 Z" fill="#fff" opacity="0.55" filter="url(#t3)"/><path d="M106.00,78.00 L96.00,90.00 L106.00,99.00 Z" fill="#fcfcfc" filter="url(#t3)"/></svg>
<svg x="824.7" y="2072.8" width="309" height="309" viewBox="0 0 100 100" preserveAspectRatio="none"><rect x="-1" y="-1" width="102" height="102" fill="#fff"/><path d="M-8.00,108.00 C-10.65,105.35 -9.79,97.73 -8.00,95.00 C-6.53,92.76 -2.92,93.30 0.00,91.50 C4.29,88.86 9.27,83.24 14.50,79.50 C20.02,75.55 26.35,71.77 32.40,68.50 C38.26,65.33 44.33,62.13 50.20,60.10 C55.52,58.26 60.87,56.80 66.00,56.50 C70.78,56.22 75.62,56.72 80.00,58.00 C84.27,59.25 88.73,61.47 92.00,64.00 C94.91,66.25 97.13,69.21 99.00,72.00 C100.72,74.56 101.32,77.92 103.00,80.00 C104.42,81.76 106.90,81.71 108.00,84.00 C110.13,88.43 112.32,103.68 108.00,108.00 C102.94,113.06 79.09,111.61 75.00,108.00 C72.98,106.22 75.08,102.21 74.00,100.00 C72.99,97.93 70.75,96.58 69.00,95.00 C67.25,93.41 65.27,91.98 63.50,90.50 C61.81,89.09 60.81,86.68 58.60,86.30 C55.20,85.71 49.21,89.66 44.30,91.80 C38.88,94.16 30.79,96.57 27.50,100.00 C25.25,102.34 26.68,106.25 24.00,108.00 C18.87,111.35 -3.85,112.15 -8.00,108.00 Z" fill="#000" filter="url(#t1)"/><path d="M106.00,68.60 L94.40,88.70 L106.00,103.40 Z" fill="#fff" filter="url(#t1)"/></svg>
<svg x="824.7" y="2479.3" width="309" height="309" viewBox="0 0 100 100" preserveAspectRatio="none"><rect x="-1" y="-1" width="102" height="102" fill="#fff"/><path d="M-8.00,108.00 C-10.65,105.35 -9.79,97.73 -8.00,95.00 C-6.53,92.76 -2.92,93.30 0.00,91.50 C4.29,88.86 9.27,83.24 14.50,79.50 C20.02,75.55 26.35,71.77 32.40,68.50 C38.26,65.33 44.33,62.13 50.20,60.10 C55.52,58.26 60.87,56.80 66.00,56.50 C70.78,56.22 75.62,56.72 80.00,58.00 C84.27,59.25 88.73,61.47 92.00,64.00 C94.91,66.25 97.13,69.21 99.00,72.00 C100.72,74.56 101.32,77.92 103.00,80.00 C104.42,81.76 106.90,81.71 108.00,84.00 C110.13,88.43 112.32,103.68 108.00,108.00 C102.94,113.06 79.09,111.61 75.00,108.00 C72.98,106.22 75.08,102.21 74.00,100.00 C72.99,97.93 70.75,96.58 69.00,95.00 C67.25,93.41 65.27,91.98 63.50,90.50 C61.81,89.09 60.81,86.68 58.60,86.30 C55.20,85.71 49.21,89.66 44.30,91.80 C38.88,94.16 30.79,96.57 27.50,100.00 C25.25,102.34 26.68,106.25 24.00,108.00 C18.87,111.35 -3.85,112.15 -8.00,108.00 Z" fill="#000" filter="url(#t1)"/><path d="M104.00,80.00 L97.30,89.30 L104.00,97.50 Z" fill="#fff" filter="url(#t1)"/></svg>
<svg x="1153.5" y="2072.8" width="309" height="309" viewBox="0 0 100 100" preserveAspectRatio="none"><rect x="-1" y="-1" width="102" height="102" fill="#fff"/><path d="M-8.00,108.00 C-10.65,105.35 -9.79,97.73 -8.00,95.00 C-6.53,92.76 -2.92,93.30 0.00,91.50 C4.29,88.86 9.27,83.24 14.50,79.50 C20.02,75.55 26.35,71.77 32.40,68.50 C38.26,65.33 44.33,62.13 50.20,60.10 C55.52,58.26 60.87,56.80 66.00,56.50 C70.78,56.22 75.62,56.72 80.00,58.00 C84.27,59.25 88.73,61.47 92.00,64.00 C94.91,66.25 97.13,69.21 99.00,72.00 C100.72,74.56 101.32,77.92 103.00,80.00 C104.42,81.76 106.90,81.71 108.00,84.00 C110.13,88.43 112.32,103.68 108.00,108.00 C102.94,113.06 79.09,111.61 75.00,108.00 C72.98,106.22 75.08,102.21 74.00,100.00 C72.99,97.93 70.75,96.58 69.00,95.00 C67.25,93.41 65.27,91.98 63.50,90.50 C61.81,89.09 60.81,86.68 58.60,86.30 C55.20,85.71 49.21,89.66 44.30,91.80 C38.88,94.16 30.79,96.57 27.50,100.00 C25.25,102.34 26.68,106.25 24.00,108.00 C18.87,111.35 -3.85,112.15 -8.00,108.00 Z" fill="#000" filter="url(#t1)"/><path d="M106.00,68.60 L94.40,88.70 L106.00,103.40 Z" fill="#fff" filter="url(#t1)"/></svg>
<svg x="1153.5" y="2479.3" width="309" height="309" viewBox="0 0 100 100" preserveAspectRatio="none"><rect x="-1" y="-1" width="102" height="102" fill="#fff"/><path d="M-8.00,108.00 C-10.65,105.35 -9.79,97.73 -8.00,95.00 C-6.53,92.76 -2.92,93.30 0.00,91.50 C4.29,88.86 9.27,83.24 14.50,79.50 C20.02,75.55 26.35,71.77 32.40,68.50 C38.26,65.33 44.33,62.13 50.20,60.10 C55.52,58.26 60.87,56.80 66.00,56.50 C70.78,56.22 75.62,56.72 80.00,58.00 C84.27,59.25 88.73,61.47 92.00,64.00 C94.91,66.25 97.13,69.21 99.00,72.00 C100.72,74.56 101.32,77.92 103.00,80.00 C104.42,81.76 106.90,81.71 108.00,84.00 C110.13,88.43 112.32,103.68 108.00,108.00 C102.94,113.06 79.09,111.61 75.00,108.00 C72.98,106.22 75.08,102.21 74.00,100.00 C72.99,97.93 70.75,96.58 69.00,95.00 C67.25,93.41 65.27,91.98 63.50,90.50 C61.81,89.09 60.81,86.68 58.60,86.30 C55.20,85.71 49.21,89.66 44.30,91.80 C38.88,94.16 30.79,96.57 27.50,100.00 C25.25,102.34 26.68,106.25 24.00,108.00 C18.87,111.35 -3.85,112.15 -8.00,108.00 Z" fill="#000" filter="url(#t1)"/><path d="M104.00,80.00 L97.30,89.30 L104.00,97.50 Z" fill="#fff" filter="url(#t1)"/></svg>
<svg x="1482.3" y="2072.8" width="309" height="309" viewBox="0 0 100 100" preserveAspectRatio="none"><rect x="-1" y="-1" width="102" height="102" fill="#fff"/><path d="M-8.00,108.00 C-10.65,105.35 -9.79,97.73 -8.00,95.00 C-6.53,92.76 -2.92,93.30 0.00,91.50 C4.29,88.86 9.27,83.24 14.50,79.50 C20.02,75.55 26.35,71.77 32.40,68.50 C38.26,65.33 44.33,62.13 50.20,60.10 C55.52,58.26 60.87,56.80 66.00,56.50 C70.78,56.22 75.62,56.72 80.00,58.00 C84.27,59.25 88.73,61.47 92.00,64.00 C94.91,66.25 97.13,69.21 99.00,72.00 C100.72,74.56 101.32,77.92 103.00,80.00 C104.42,81.76 106.90,81.71 108.00,84.00 C110.13,88.43 112.32,103.68 108.00,108.00 C102.94,113.06 79.09,111.61 75.00,108.00 C72.98,106.22 75.08,102.21 74.00,100.00 C72.99,97.93 70.75,96.58 69.00,95.00 C67.25,93.41 65.27,91.98 63.50,90.50 C61.81,89.09 60.81,86.68 58.60,86.30 C55.20,85.71 49.21,89.66 44.30,91.80 C38.88,94.16 30.79,96.57 27.50,100.00 C25.25,102.34 26.68,106.25 24.00,108.00 C18.87,111.35 -3.85,112.15 -8.00,108.00 Z" fill="#000" filter="url(#t1)"/><path d="M106.00,68.60 L94.40,88.70 L106.00,103.40 Z" fill="#fff" filter="url(#t1)"/></svg>
<svg x="1482.3" y="2479.3" width="309" height="309" viewBox="0 0 100 100" preserveAspectRatio="none"><rect x="-1" y="-1" width="102" height="102" fill="#fff"/><path d="M-8.00,108.00 C-10.65,105.35 -9.79,97.73 -8.00,95.00 C-6.53,92.76 -2.92,93.30 0.00,91.50 C4.29,88.86 9.27,83.24 14.50,79.50 C20.02,75.55 26.35,71.77 32.40,68.50 C38.26,65.33 44.33,62.13 50.20,60.10 C55.52,58.26 60.87,56.80 66.00,56.50 C70.78,56.22 75.62,56.72 80.00,58.00 C84.27,59.25 88.73,61.47 92.00,64.00 C94.91,66.25 97.13,69.21 99.00,72.00 C100.72,74.56 101.32,77.92 103.00,80.00 C104.42,81.76 106.90,81.71 108.00,84.00 C110.13,88.43 112.32,103.68 108.00,108.00 C102.94,113.06 79.09,111.61 75.00,108.00 C72.98,106.22 75.08,102.21 74.00,100.00 C72.99,97.93 70.75,96.58 69.00,95.00 C67.25,93.41 65.27,91.98 63.50,90.50 C61.81,89.09 60.81,86.68 58.60,86.30 C55.20,85.71 49.21,89.66 44.30,91.80 C38.88,94.16 30.79,96.57 27.50,100.00 C25.25,102.34 26.68,106.25 24.00,108.00 C18.87,111.35 -3.85,112.15 -8.00,108.00 Z" fill="#000" filter="url(#t1)"/><path d="M104.00,80.00 L97.30,89.30 L104.00,97.50 Z" fill="#fff" filter="url(#t1)"/></svg>
<svg x="1811" y="2072.8" width="309" height="309" viewBox="0 0 100 100" preserveAspectRatio="none"><rect x="-1" y="-1" width="102" height="102" fill="#fff"/><path d="M-8.00,108.00 C-10.65,105.35 -9.79,97.73 -8.00,95.00 C-6.53,92.76 -2.92,93.30 0.00,91.50 C4.29,88.86 9.27,83.24 14.50,79.50 C20.02,75.55 26.35,71.77 32.40,68.50 C38.26,65.33 44.33,62.13 50.20,60.10 C55.52,58.26 60.87,56.80 66.00,56.50 C70.78,56.22 75.62,56.72 80.00,58.00 C84.27,59.25 88.73,61.47 92.00,64.00 C94.91,66.25 97.13,69.21 99.00,72.00 C100.72,74.56 101.32,77.92 103.00,80.00 C104.42,81.76 106.90,81.71 108.00,84.00 C110.13,88.43 112.32,103.68 108.00,108.00 C102.94,113.06 79.09,111.61 75.00,108.00 C72.98,106.22 75.08,102.21 74.00,100.00 C72.99,97.93 70.75,96.58 69.00,95.00 C67.25,93.41 65.27,91.98 63.50,90.50 C61.81,89.09 60.81,86.68 58.60,86.30 C55.20,85.71 49.21,89.66 44.30,91.80 C38.88,94.16 30.79,96.57 27.50,100.00 C25.25,102.34 26.68,106.25 24.00,108.00 C18.87,111.35 -3.85,112.15 -8.00,108.00 Z" fill="#000" filter="url(#t1)"/><path d="M106.00,68.60 L94.40,88.70 L106.00,103.40 Z" fill="#fff" filter="url(#t1)"/></svg>
<svg x="1811" y="2479.3" width="309" height="309" viewBox="0 0 100 100" preserveAspectRatio="none"><rect x="-1" y="-1" width="102" height="102" fill="#fff"/><path d="M-8.00,108.00 C-10.65,105.35 -9.79,97.73 -8.00,95.00 C-6.53,92.76 -2.92,93.30 0.00,91.50 C4.29,88.86 9.27,83.24 14.50,79.50 C20.02,75.55 26.35,71.77 32.40,68.50 C38.26,65.33 44.33,62.13 50.20,60.10 C55.52,58.26 60.87,56.80 66.00,56.50 C70.78,56.22 75.62,56.72 80.00,58.00 C84.27,59.25 88.73,61.47 92.00,64.00 C94.91,66.25 97.13,69.21 99.00,72.00 C100.72,74.56 101.32,77.92 103.00,80.00 C104.42,81.76 106.90,81.71 108.00,84.00 C110.13,88.43 112.32,103.68 108.00,108.00 C102.94,113.06 79.09,111.61 75.00,108.00 C72.98,106.22 75.08,102.21 74.00,100.00 C72.99,97.93 70.75,96.58 69.00,95.00 C67.25,93.41 65.27,91.98 63.50,90.50 C61.81,89.09 60.81,86.68 58.60,86.30 C55.20,85.71 49.21,89.66 44.30,91.80 C38.88,94.16 30.79,96.57 27.50,100.00 C25.25,102.34 26.68,106.25 24.00,108.00 C18.87,111.35 -3.85,112.15 -8.00,108.00 Z" fill="#000" filter="url(#t1)"/><path d="M104.00,80.00 L97.30,89.30 L104.00,97.50 Z" fill="#fff" filter="url(#t1)"/></svg>
<text x="23.5" y="2993" text-anchor="start" font-weight="bold" font-size="116">IV</text>
<text x="650.5" y="2984.8" text-anchor="middle" >6</text>
<text x="979.2" y="2984.8" text-anchor="middle" >7</text>
<text x="1308.0" y="2984.8" text-anchor="middle" >8</text>
<text x="1636.8" y="2984.8" text-anchor="middle" >9</text>
<text x="1965.5" y="2984.8" text-anchor="middle" >10</text>
<text x="1309" y="3390.4" text-anchor="middle" >SIMP</text>
<text x="1310" y="3795.5" text-anchor="middle" >SaConvLSTM</text>
<svg x="496" y="3007" width="309" height="309" viewBox="0 0 100 100" preserveAspectRatio="none"><rect x="-1" y="-1" width="102" height="102" fill="#fff"/><path d="M-8.00,-8.00 C8.18,-24.18 91.82,-24.18 108.00,-8.00 C119.63,3.63 113.03,48.78 108.00,52.00 C106.07,53.23 102.75,49.62 100.00,48.30 C97.03,46.87 93.98,45.60 90.80,43.70 C87.03,41.45 82.82,38.60 79.00,35.40 C74.87,31.94 70.41,27.19 67.00,23.50 C64.25,20.52 62.17,17.75 59.90,15.10 C57.85,12.71 55.58,9.85 54.00,8.30 C53.07,7.39 52.39,6.71 51.60,6.30 C50.99,5.98 50.40,5.80 49.80,5.80 C49.20,5.80 48.61,5.98 48.00,6.30 C47.21,6.71 46.53,7.49 45.60,8.30 C44.26,9.47 42.39,10.90 40.80,12.70 C38.81,14.95 37.19,18.11 34.90,21.00 C32.18,24.43 28.91,28.46 25.40,31.80 C21.79,35.24 17.73,38.55 13.50,41.30 C9.27,44.05 3.93,46.37 0.00,48.30 C-2.99,49.77 -6.07,53.23 -8.00,52.00 C-13.03,48.78 -19.63,3.63 -8.00,-8.00 Z" fill="#000" filter="url(#t1)"/></svg>
<svg x="496" y="3413" width="309" height="305.8" viewBox="0 0 100 100" preserveAspectRatio="none"><rect x="-1" y="-1" width="102" height="102" fill="#fbfbfb"/><path d="M-8.00,-8.00 C7.68,-23.68 92.23,-23.77 108.00,-8.00 C118.86,2.86 112.85,43.64 108.00,47.00 C106.09,48.33 102.63,45.22 100.00,44.00 C97.26,42.73 94.80,41.33 91.90,39.50 C88.25,37.20 83.91,34.03 80.00,31.00 C75.97,27.88 71.64,24.28 68.10,21.00 C65.01,18.13 62.32,15.09 59.80,12.50 C57.69,10.33 55.59,7.84 54.00,6.50 C53.04,5.69 52.32,5.17 51.50,4.80 C50.82,4.50 50.17,4.30 49.50,4.30 C48.83,4.30 48.18,4.50 47.50,4.80 C46.68,5.17 45.95,5.71 45.00,6.50 C43.47,7.76 41.50,9.92 39.50,12.00 C36.99,14.61 34.20,17.98 31.20,21.00 C27.92,24.31 24.29,27.99 20.50,31.00 C16.75,33.98 12.30,36.80 8.60,39.00 C5.55,40.81 2.87,42.31 0.00,43.50 C-2.67,44.60 -6.09,47.41 -8.00,46.00 C-12.86,42.43 -18.70,2.70 -8.00,-8.00 Z" fill="#000" filter="url(#t3)"/><ellipse cx="24" cy="1.5" rx="9" ry="3" fill="#fff" opacity=".5" filter="url(#t4)"/><ellipse cx="78" cy="2" rx="12" ry="3.5" fill="#fff" opacity=".55" filter="url(#t4)"/><ellipse cx="98" cy="19" rx="3" ry="5" fill="#fff" opacity=".4" filter="url(#t4)"/><ellipse cx="2" cy="17" rx="3" ry="5" fill="#fff" opacity=".3" filter="url(#t4)"/></svg>
<svg x="824.7" y="3007" width="309" height="309" viewBox="0 0 100 100" preserveAspectRatio="none"><rect x="-1" y="-1" width="102" height="102" fill="#fff"/><path d="M-8.00,-8.00 C8.18,-24.18 91.82,-24.18 108.00,-8.00 C119.63,3.63 113.03,48.78 108.00,52.00 C106.07,53.23 102.75,49.62 100.00,48.30 C97.03,46.87 93.98,45.60 90.80,43.70 C87.03,41.45 82.82,38.60 79.00,35.40 C74.87,31.94 70.41,27.19 67.00,23.50 C64.25,20.52 62.17,17.75 59.90,15.10 C57.85,12.71 55.58,9.85 54.00,8.30 C53.07,7.39 52.39,6.71 51.60,6.30 C50.99,5.98 50.40,5.80 49.80,5.80 C49.20,5.80 48.61,5.98 48.00,6.30 C47.21,6.71 46.53,7.49 45.60,8.30 C44.26,9.47 42.39,10.90 40.80,12.70 C38.81,14.95 37.19,18.11 34.90,21.00 C32.18,24.43 28.91,28.46 25.40,31.80 C21.79,35.24 17.73,38.55 13.50,41.30 C9.27,44.05 3.93,46.37 0.00,48.30 C-2.99,49.77 -6.07,53.23 -8.00,52.00 C-13.03,48.78 -19.63,3.63 -8.00,-8.00 Z" fill="#000" filter="url(#t1)"/></svg>
<svg x="824.7" y="3416.3" width="309" height="304.4" viewBox="0 0 100 100" preserveAspectRatio="none"><rect x="-1" y="-1" width="102" height="102" fill="#fff"/><path d="M-8.00,-8.00 C8.18,-24.18 91.82,-24.18 108.00,-8.00 C119.63,3.63 113.03,48.78 108.00,52.00 C106.07,53.23 102.75,49.62 100.00,48.30 C97.03,46.87 93.98,45.60 90.80,43.70 C87.03,41.45 82.82,38.60 79.00,35.40 C74.87,31.94 70.41,27.19 67.00,23.50 C64.25,20.52 62.17,17.75 59.90,15.10 C57.85,12.71 55.58,9.85 54.00,8.30 C53.07,7.39 52.39,6.71 51.60,6.30 C50.99,5.98 50.40,5.80 49.80,5.80 C49.20,5.80 48.61,5.98 48.00,6.30 C47.21,6.71 46.53,7.49 45.60,8.30 C44.26,9.47 42.39,10.90 40.80,12.70 C38.81,14.95 37.19,18.11 34.90,21.00 C32.18,24.43 28.91,28.46 25.40,31.80 C21.79,35.24 17.73,38.55 13.50,41.30 C9.27,44.05 3.93,46.37 0.00,48.30 C-2.99,49.77 -6.07,53.23 -8.00,52.00 C-13.03,48.78 -19.63,3.63 -8.00,-8.00 Z" fill="#000" filter="url(#t2)"/></svg>
<svg x="1153.5" y="3007" width="309" height="309" viewBox="0 0 100 100" preserveAspectRatio="none"><rect x="-1" y="-1" width="102" height="102" fill="#fff"/><path d="M-8.00,-8.00 C8.18,-24.18 91.82,-24.18 108.00,-8.00 C119.63,3.63 113.03,48.78 108.00,52.00 C106.07,53.23 102.75,49.62 100.00,48.30 C97.03,46.87 93.98,45.60 90.80,43.70 C87.03,41.45 82.82,38.60 79.00,35.40 C74.87,31.94 70.41,27.19 67.00,23.50 C64.25,20.52 62.17,17.75 59.90,15.10 C57.85,12.71 55.58,9.85 54.00,8.30 C53.07,7.39 52.39,6.71 51.60,6.30 C50.99,5.98 50.40,5.80 49.80,5.80 C49.20,5.80 48.61,5.98 48.00,6.30 C47.21,6.71 46.53,7.49 45.60,8.30 C44.26,9.47 42.39,10.90 40.80,12.70 C38.81,14.95 37.19,18.11 34.90,21.00 C32.18,24.43 28.91,28.46 25.40,31.80 C21.79,35.24 17.73,38.55 13.50,41.30 C9.27,44.05 3.93,46.37 0.00,48.30 C-2.99,49.77 -6.07,53.23 -8.00,52.00 C-13.03,48.78 -19.63,3.63 -8.00,-8.00 Z" fill="#000" filter="url(#t1)"/></svg>
<svg x="1153.5" y="3416.3" width="309" height="304.4" viewBox="0 0 100 100" preserveAspectRatio="none"><rect x="-1" y="-1" width="102" height="102" fill="#fff"/><path d="M-8.00,-8.00 C8.18,-24.18 91.82,-24.18 108.00,-8.00 C119.63,3.63 113.03,48.78 108.00,52.00 C106.07,53.23 102.75,49.62 100.00,48.30 C97.03,46.87 93.98,45.60 90.80,43.70 C87.03,41.45 82.82,38.60 79.00,35.40 C74.87,31.94 70.41,27.19 67.00,23.50 C64.25,20.52 62.17,17.75 59.90,15.10 C57.85,12.71 55.58,9.85 54.00,8.30 C53.07,7.39 52.39,6.71 51.60,6.30 C50.99,5.98 50.40,5.80 49.80,5.80 C49.20,5.80 48.61,5.98 48.00,6.30 C47.21,6.71 46.53,7.49 45.60,8.30 C44.26,9.47 42.39,10.90 40.80,12.70 C38.81,14.95 37.19,18.11 34.90,21.00 C32.18,24.43 28.91,28.46 25.40,31.80 C21.79,35.24 17.73,38.55 13.50,41.30 C9.27,44.05 3.93,46.37 0.00,48.30 C-2.99,49.77 -6.07,53.23 -8.00,52.00 C-13.03,48.78 -19.63,3.63 -8.00,-8.00 Z" fill="#000" filter="url(#t1)"/></svg>
<svg x="1482.3" y="3007" width="309" height="309" viewBox="0 0 100 100" preserveAspectRatio="none"><rect x="-1" y="-1" width="102" height="102" fill="#fff"/><path d="M-8.00,-8.00 C8.18,-24.18 91.82,-24.18 108.00,-8.00 C119.63,3.63 113.03,48.78 108.00,52.00 C106.07,53.23 102.75,49.62 100.00,48.30 C97.03,46.87 93.98,45.60 90.80,43.70 C87.03,41.45 82.82,38.60 79.00,35.40 C74.87,31.94 70.41,27.19 67.00,23.50 C64.25,20.52 62.17,17.75 59.90,15.10 C57.85,12.71 55.58,9.85 54.00,8.30 C53.07,7.39 52.39,6.71 51.60,6.30 C50.99,5.98 50.40,5.80 49.80,5.80 C49.20,5.80 48.61,5.98 48.00,6.30 C47.21,6.71 46.53,7.49 45.60,8.30 C44.26,9.47 42.39,10.90 40.80,12.70 C38.81,14.95 37.19,18.11 34.90,21.00 C32.18,24.43 28.91,28.46 25.40,31.80 C21.79,35.24 17.73,38.55 13.50,41.30 C9.27,44.05 3.93,46.37 0.00,48.30 C-2.99,49.77 -6.07,53.23 -8.00,52.00 C-13.03,48.78 -19.63,3.63 -8.00,-8.00 Z" fill="#000" filter="url(#t1)"/></svg>
<svg x="1482.3" y="3416.3" width="309" height="304.4" viewBox="0 0 100 100" preserveAspectRatio="none"><rect x="-1" y="-1" width="102" height="102" fill="#fff"/><path d="M-8.00,-8.00 C8.18,-24.18 91.82,-24.18 108.00,-8.00 C119.63,3.63 113.03,48.78 108.00,52.00 C106.07,53.23 102.75,49.62 100.00,48.30 C97.03,46.87 93.98,45.60 90.80,43.70 C87.03,41.45 82.82,38.60 79.00,35.40 C74.87,31.94 70.41,27.19 67.00,23.50 C64.25,20.52 62.17,17.75 59.90,15.10 C57.85,12.71 55.58,9.85 54.00,8.30 C53.07,7.39 52.39,6.71 51.60,6.30 C50.99,5.98 50.40,5.80 49.80,5.80 C49.20,5.80 48.61,5.98 48.00,6.30 C47.21,6.71 46.53,7.49 45.60,8.30 C44.26,9.47 42.39,10.90 40.80,12.70 C38.81,14.95 37.19,18.11 34.90,21.00 C32.18,24.43 28.91,28.46 25.40,31.80 C21.79,35.24 17.73,38.55 13.50,41.30 C9.27,44.05 3.93,46.37 0.00,48.30 C-2.99,49.77 -6.07,53.23 -8.00,52.00 C-13.03,48.78 -19.63,3.63 -8.00,-8.00 Z" fill="#000" filter="url(#t1)"/></svg>
<svg x="1811" y="3007" width="309" height="309" viewBox="0 0 100 100" preserveAspectRatio="none"><rect x="-1" y="-1" width="102" height="102" fill="#fff"/><path d="M-8.00,-8.00 C8.18,-24.18 91.82,-24.18 108.00,-8.00 C119.63,3.63 113.03,48.78 108.00,52.00 C106.07,53.23 102.75,49.62 100.00,48.30 C97.03,46.87 93.98,45.60 90.80,43.70 C87.03,41.45 82.82,38.60 79.00,35.40 C74.87,31.94 70.41,27.19 67.00,23.50 C64.25,20.52 62.17,17.75 59.90,15.10 C57.85,12.71 55.58,9.85 54.00,8.30 C53.07,7.39 52.39,6.71 51.60,6.30 C50.99,5.98 50.40,5.80 49.80,5.80 C49.20,5.80 48.61,5.98 48.00,6.30 C47.21,6.71 46.53,7.49 45.60,8.30 C44.26,9.47 42.39,10.90 40.80,12.70 C38.81,14.95 37.19,18.11 34.90,21.00 C32.18,24.43 28.91,28.46 25.40,31.80 C21.79,35.24 17.73,38.55 13.50,41.30 C9.27,44.05 3.93,46.37 0.00,48.30 C-2.99,49.77 -6.07,53.23 -8.00,52.00 C-13.03,48.78 -19.63,3.63 -8.00,-8.00 Z" fill="#000" filter="url(#t1)"/></svg>
<svg x="1811" y="3416.3" width="309" height="304.4" viewBox="0 0 100 100" preserveAspectRatio="none"><rect x="-1" y="-1" width="102" height="102" fill="#fff"/><path d="M-8.00,-8.00 C8.18,-24.18 91.82,-24.18 108.00,-8.00 C119.63,3.63 113.03,48.78 108.00,52.00 C106.07,53.23 102.75,49.62 100.00,48.30 C97.03,46.87 93.98,45.60 90.80,43.70 C87.03,41.45 82.82,38.60 79.00,35.40 C74.87,31.94 70.41,27.19 67.00,23.50 C64.25,20.52 62.17,17.75 59.90,15.10 C57.85,12.71 55.58,9.85 54.00,8.30 C53.07,7.39 52.39,6.71 51.60,6.30 C50.99,5.98 50.40,5.80 49.80,5.80 C49.20,5.80 48.61,5.98 48.00,6.30 C47.21,6.71 46.53,7.49 45.60,8.30 C44.26,9.47 42.39,10.90 40.80,12.70 C38.81,14.95 37.19,18.11 34.90,21.00 C32.18,24.43 28.91,28.46 25.40,31.80 C21.79,35.24 17.73,38.55 13.50,41.30 C9.27,44.05 3.93,46.37 0.00,48.30 C-2.99,49.77 -6.07,53.23 -8.00,52.00 C-13.03,48.78 -19.63,3.63 -8.00,-8.00 Z" fill="#000" filter="url(#t1)"/></svg>
<rect x="57" y="391" width="344.3" height="344.6" fill="#808080"/>
<ellipse cx="54.3" cy="772.2" rx="24" ry="11" fill="#000" opacity=".028" filter="url(#b3)"/>
<g stroke="#000" stroke-width="1.5" fill="none"><path d="M51.3,741.1 L42.3,752.2 M57.3,741.1 L66.3,752.2"/><path d="M32.3,752.2 L74.3,752.2" stroke-width="2"/><path d="M37.5,752.2 L33.5,756.8000000000001 M41.3,752.2 L37.3,756.8000000000001 M45.1,752.2 L41.1,756.8000000000001 M48.9,752.2 L44.9,756.8000000000001 M52.7,752.2 L48.7,756.8000000000001 M56.5,752.2 L52.5,756.8000000000001 M60.3,752.2 L56.3,756.8000000000001 M64.1,752.2 L60.099999999999994,756.8000000000001 M67.89999999999999,752.2 L63.89999999999999,756.8000000000001 M71.7,752.2 L67.7,756.8000000000001 M75.5,752.2 L71.5,756.8000000000001 " stroke-width="1.4"/><circle cx="54.3" cy="736.6" r="5.3" fill="#FDF6E8"/></g>
<ellipse cx="402" cy="774.2" rx="24" ry="11" fill="#000" opacity=".028" filter="url(#b3)"/>
<g stroke="#000" stroke-width="1.5" fill="none"><path d="M399,743.1 L390,754.2 M405,743.1 L414,754.2"/><path d="M380,754.2 L422,754.2" stroke-width="2"/><path d="M385.2,754.2 L381.2,758.8000000000001 M389.0,754.2 L385.0,758.8000000000001 M392.8,754.2 L388.8,758.8000000000001 M396.59999999999997,754.2 L392.59999999999997,758.8000000000001 M400.4,754.2 L396.4,758.8000000000001 M404.2,754.2 L400.2,758.8000000000001 M408.0,754.2 L404.0,758.8000000000001 M411.8,754.2 L407.8,758.8000000000001 M415.59999999999997,754.2 L411.59999999999997,758.8000000000001 M419.4,754.2 L415.4,758.8000000000001 M423.2,754.2 L419.2,758.8000000000001 " stroke-width="1.4"/><circle cx="402" cy="738.6" r="5.3" fill="#FDF6E8"/></g>
<path d="M110.8,389.1 L164.4,358.4" stroke="#F00808" stroke-width="2.8" stroke-linecap="round"/>
<path d="M200.0,338.0 L170.9,369.7 L158.0,347.1 Z" fill="#F00808"/>
<path d="M405.5,318.9 L361.8,362.5" stroke="#F00808" stroke-width="2.8" stroke-linecap="round"/>
<path d="M333.5,390.8 L352.5,353.2 L371.1,371.9 Z" fill="#F00808"/>
<text x="125" y="355.7" font-style="italic" font-size="97" fill="#F00808">F</text>
<text x="316.5" y="345.4" font-style="italic" font-size="97" fill="#F00808">F</text>
<rect x="56" y="1329.5" width="346.8" height="347" fill="#808080" stroke="#000" stroke-width="1.2"/>
<ellipse cx="54.2" cy="1712.1999999999998" rx="24" ry="11" fill="#000" opacity=".028" filter="url(#b3)"/>
<g stroke="#000" stroke-width="1.5" fill="none"><path d="M51.2,1681.1 L42.2,1692.1999999999998 M57.2,1681.1 L66.2,1692.1999999999998"/><path d="M32.2,1692.1999999999998 L74.2,1692.1999999999998" stroke-width="2"/><path d="M37.400000000000006,1692.1999999999998 L33.400000000000006,1696.7999999999997 M41.2,1692.1999999999998 L37.2,1696.7999999999997 M45.00000000000001,1692.1999999999998 L41.00000000000001,1696.7999999999997 M48.800000000000004,1692.1999999999998 L44.800000000000004,1696.7999999999997 M52.60000000000001,1692.1999999999998 L48.60000000000001,1696.7999999999997 M56.400000000000006,1692.1999999999998 L52.400000000000006,1696.7999999999997 M60.2,1692.1999999999998 L56.2,1696.7999999999997 M64.0,1692.1999999999998 L60.0,1696.7999999999997 M67.8,1692.1999999999998 L63.8,1696.7999999999997 M71.60000000000001,1692.1999999999998 L67.60000000000001,1696.7999999999997 M75.4,1692.1999999999998 L71.4,1696.7999999999997 " stroke-width="1.4"/><circle cx="54.2" cy="1676.6" r="5.3" fill="#F9EED5"/></g>
<ellipse cx="401.6" cy="1713.6" rx="24" ry="11" fill="#000" opacity=".028" filter="url(#b3)"/>
<g stroke="#000" stroke-width="1.5" fill="none"><path d="M398.6,1682.5 L389.6,1693.6 M404.6,1682.5 L413.6,1693.6"/><path d="M379.6,1693.6 L421.6,1693.6" stroke-width="2"/><path d="M384.8,1693.6 L380.8,1698.1999999999998 M388.6,1693.6 L384.6,1698.1999999999998 M392.40000000000003,1693.6 L388.40000000000003,1698.1999999999998 M396.2,1693.6 L392.2,1698.1999999999998 M400.0,1693.6 L396.0,1698.1999999999998 M403.8,1693.6 L399.8,1698.1999999999998 M407.6,1693.6 L403.6,1698.1999999999998 M411.40000000000003,1693.6 L407.40000000000003,1698.1999999999998 M415.2,1693.6 L411.2,1698.1999999999998 M419.0,1693.6 L415.0,1698.1999999999998 M422.8,1693.6 L418.8,1698.1999999999998 " stroke-width="1.4"/><circle cx="401.6" cy="1678" r="5.3" fill="#F9EED5"/></g>
<path d="M228.5,1330.5 L272.1,1287.5" stroke="#F00808" stroke-width="2.8" stroke-linecap="round"/>
<path d="M300.6,1259.4 L281.5,1297.0 L262.7,1277.9 Z" fill="#F00808"/>
<path d="M474.0,1542.0 L431.3,1584.0" stroke="#F00808" stroke-width="2.8" stroke-linecap="round"/>
<path d="M402.8,1612.0 L421.9,1574.4 L440.7,1593.5 Z" fill="#F00808"/>
<text x="198" y="1314.2" font-style="italic" font-size="97" fill="#F00808">F</text>
<text x="419.8" y="1554.6" font-style="italic" font-size="97" fill="#F00808">F</text>
<rect x="56" y="2223" width="346.8" height="347" fill="#808080" stroke="#000" stroke-width="1.2"/>
<ellipse cx="54.2" cy="2607.6" rx="24" ry="11" fill="#000" opacity=".028" filter="url(#b3)"/>
<g stroke="#000" stroke-width="1.5" fill="none"><path d="M51.2,2576.5 L42.2,2587.6 M57.2,2576.5 L66.2,2587.6"/><path d="M32.2,2587.6 L74.2,2587.6" stroke-width="2"/><path d="M37.400000000000006,2587.6 L33.400000000000006,2592.2 M41.2,2587.6 L37.2,2592.2 M45.00000000000001,2587.6 L41.00000000000001,2592.2 M48.800000000000004,2587.6 L44.800000000000004,2592.2 M52.60000000000001,2587.6 L48.60000000000001,2592.2 M56.400000000000006,2587.6 L52.400000000000006,2592.2 M60.2,2587.6 L56.2,2592.2 M64.0,2587.6 L60.0,2592.2 M67.8,2587.6 L63.8,2592.2 M71.60000000000001,2587.6 L67.60000000000001,2592.2 M75.4,2587.6 L71.4,2592.2 " stroke-width="1.4"/><circle cx="54.2" cy="2572" r="5.3" fill="#EEF3F7"/></g>
<ellipse cx="401.6" cy="2607.6" rx="24" ry="11" fill="#000" opacity=".028" filter="url(#b3)"/>
<g stroke="#000" stroke-width="1.5" fill="none"><path d="M398.6,2576.5 L389.6,2587.6 M404.6,2576.5 L413.6,2587.6"/><path d="M379.6,2587.6 L421.6,2587.6" stroke-width="2"/><path d="M384.8,2587.6 L380.8,2592.2 M388.6,2587.6 L384.6,2592.2 M392.40000000000003,2587.6 L388.40000000000003,2592.2 M396.2,2587.6 L392.2,2592.2 M400.0,2587.6 L396.0,2592.2 M403.8,2587.6 L399.8,2592.2 M407.6,2587.6 L403.6,2592.2 M411.40000000000003,2587.6 L407.40000000000003,2592.2 M415.2,2587.6 L411.2,2592.2 M419.0,2587.6 L415.0,2592.2 M422.8,2587.6 L418.8,2592.2 " stroke-width="1.4"/><circle cx="401.6" cy="2572" r="5.3" fill="#EEF3F7"/></g>
<path d="M401.0,2466.6 L449.6,2466.6" stroke="#F00808" stroke-width="3.2" stroke-linecap="round"/>
<path d="M490.9,2466.6 L449.6,2479.5 L449.6,2453.7 Z" fill="#F00808"/>
<path d="M401.0,2499.8 L449.6,2499.8" stroke="#F00808" stroke-width="3.2" stroke-linecap="round"/>
<path d="M490.9,2499.8 L449.6,2512.7 L449.6,2486.9 Z" fill="#F00808"/>
<path d="M401.0,2533.0 L449.6,2533.0" stroke="#F00808" stroke-width="3.2" stroke-linecap="round"/>
<path d="M490.9,2533.0 L449.6,2545.9 L449.6,2520.1 Z" fill="#F00808"/>
<text x="429" y="2430" font-style="italic" font-size="97" fill="#F00808">f</text>
<rect x="36.3" y="3248" width="20.3" height="347.3" fill="url(#hatch)"/>
<rect x="403.8" y="3248" width="21.2" height="347.3" fill="url(#hatch)"/>
<rect x="57.1" y="3248.4" width="346.4" height="346.6" fill="#808080" stroke="#000" stroke-width="1.7"/>
<path d="M67.0,3160.0 L67.0,3208.0" stroke="#F00808" stroke-width="3.2" stroke-linecap="round"/>
<path d="M67.0,3248.0 L53.5,3208.0 L80.5,3208.0 Z" fill="#F00808"/>
<path d="M108.0,3160.0 L108.0,3208.0" stroke="#F00808" stroke-width="3.2" stroke-linecap="round"/>
<path d="M108.0,3248.0 L94.5,3208.0 L121.5,3208.0 Z" fill="#F00808"/>
<path d="M148.9,3160.0 L148.9,3208.0" stroke="#F00808" stroke-width="3.2" stroke-linecap="round"/>
<path d="M148.9,3248.0 L135.4,3208.0 L162.4,3208.0 Z" fill="#F00808"/>
<path d="M189.9,3160.0 L189.9,3208.0" stroke="#F00808" stroke-width="3.2" stroke-linecap="round"/>
<path d="M189.9,3248.0 L176.4,3208.0 L203.4,3208.0 Z" fill="#F00808"/>
<path d="M230.8,3160.0 L230.8,3208.0" stroke="#F00808" stroke-width="3.2" stroke-linecap="round"/>
<path d="M230.8,3248.0 L217.3,3208.0 L244.3,3208.0 Z" fill="#F00808"/>
<path d="M271.8,3160.0 L271.8,3208.0" stroke="#F00808" stroke-width="3.2" stroke-linecap="round"/>
<path d="M271.8,3248.0 L258.3,3208.0 L285.3,3208.0 Z" fill="#F00808"/>
<path d="M312.8,3160.0 L312.8,3208.0" stroke="#F00808" stroke-width="3.2" stroke-linecap="round"/>
<path d="M312.8,3248.0 L299.3,3208.0 L326.3,3208.0 Z" fill="#F00808"/>
<path d="M353.7,3160.0 L353.7,3208.0" stroke="#F00808" stroke-width="3.2" stroke-linecap="round"/>
<path d="M353.7,3248.0 L340.2,3208.0 L367.2,3208.0 Z" fill="#F00808"/>
<path d="M394.7,3160.0 L394.7,3208.0" stroke="#F00808" stroke-width="3.2" stroke-linecap="round"/>
<path d="M394.7,3248.0 L381.2,3208.0 L408.2,3208.0 Z" fill="#F00808"/>
<text x="434" y="3220.5" font-style="italic" font-size="97" fill="#F00808">f</text>
<g transform="translate(2204.4,744.4) rotate(-90)" font-size="88"><text x="0" y="0" font-size="87.4">Compliance</text><text x="444.5" y="0" font-style="italic">C</text><text x="504" y="23.5" font-style="italic" font-size="60">s</text><rect x="445.5" y="-78.4" width="59" height="6.2"/></g>
<g transform="translate(3397.6,678.7) rotate(-90)" font-size="88"><text x="0" y="0">Stiffness</text><text x="333.5" y="0" font-style="italic">ξ</text><text x="372" y="22" font-style="italic" font-size="60">s</text><rect x="329" y="-78.6" width="42.5" height="6.2"/></g>
<rect x="2380" y="150.9" width="789.3" height="662.4" fill="none" stroke="#000" stroke-width="2.5"/>
<path d="M2380,150.9 h-12.7 M3169.3,150.9 h12.7 M2380,233.7 h-7 M3169.3,233.7 h7 M2380,316.5 h-12.7 M3169.3,316.5 h12.7 M2380,399.3 h-7 M3169.3,399.3 h7 M2380,482.1 h-12.7 M3169.3,482.1 h12.7 M2380,564.9 h-7 M3169.3,564.9 h7 M2380,647.7 h-12.7 M3169.3,647.7 h12.7 M2380,730.5 h-7 M3169.3,730.5 h7 M2380,813.3 h-12.7 M3169.3,813.3 h12.7 M2380.0,813.3 v11 M2577.3,813.3 v11 M2774.7,813.3 v11 M2972.0,813.3 v11 M3169.3,813.3 v11 " stroke="#000" stroke-width="2.4" fill="none"/>
<path d="M2380.0,400.8 L2577.3,401.8 L2774.7,402.2 L2972.0,402.4 L3169.3,402.6" stroke="#F60404" stroke-width="5.5" stroke-dasharray="24.5 35.8" stroke-linecap="round" stroke-linejoin="round" fill="none"/><rect x="2364.5" y="385.3" width="31.0" height="31.0" fill="#F60404"/><rect x="2561.8" y="386.3" width="31.0" height="31.0" fill="#F60404"/><rect x="2759.2" y="386.7" width="31.0" height="31.0" fill="#F60404"/><rect x="2956.5" y="386.9" width="31.0" height="31.0" fill="#F60404"/><rect x="3153.8" y="387.1" width="31.0" height="31.0" fill="#F60404"/>
<path d="M2380.0,402.6 L2577.3,402.6 L2774.7,402.6 L2972.0,402.6 L3169.3,402.6" stroke="#0CF50C" stroke-width="5.9" stroke-dasharray="31 21.6 3.3 21.4" stroke-linecap="round" stroke-linejoin="round" fill="none"/><circle cx="2380.0" cy="402.6" r="16.9" fill="#0CF50C"/><circle cx="2577.3" cy="402.6" r="16.9" fill="#0CF50C"/><circle cx="2774.7" cy="402.6" r="16.9" fill="#0CF50C"/><circle cx="2972.0" cy="402.6" r="16.9" fill="#0CF50C"/><circle cx="3169.3" cy="402.6" r="16.9" fill="#0CF50C"/>
<path d="M2380.0,643.5 L2577.3,642.4 L2774.7,641.9 L2972.0,641.5 L3169.3,641.5" stroke="#0505E8" stroke-width="5.2" stroke-dasharray="10 17.6" stroke-linecap="round" stroke-linejoin="round" fill="none"/><path d="M2380.0,623.0 L2400.5,643.5 L2380.0,664.0 L2359.5,643.5 Z" fill="#0505E8"/><path d="M2577.3,621.9 L2597.8,642.4 L2577.3,662.9 L2556.8,642.4 Z" fill="#0505E8"/><path d="M2774.7,621.4 L2795.2,641.9 L2774.7,662.4 L2754.2,641.9 Z" fill="#0505E8"/><path d="M2972.0,621.0 L2992.5,641.5 L2972.0,662.0 L2951.5,641.5 Z" fill="#0505E8"/><path d="M3169.3,621.0 L3189.8,641.5 L3169.3,662.0 L3148.8,641.5 Z" fill="#0505E8"/>
<path d="M2380.0,651.9 L2577.3,650.9 L2774.7,650.4 L2972.0,649.9 L3169.3,649.9" stroke="#05F8F8" stroke-width="5.2" stroke-dasharray="22 19 4 21.5 4 21.5" stroke-linecap="round" stroke-linejoin="round" fill="none"/><polygon points="2380.0,633.1 2399.3,647.1 2391.9,669.8 2368.1,669.8 2360.7,647.1" fill="#05F8F8"/><polygon points="2577.3,632.1 2596.6,646.1 2589.3,668.8 2565.4,668.8 2558.0,646.1" fill="#05F8F8"/><polygon points="2774.7,631.6 2794.0,645.6 2786.6,668.3 2762.7,668.3 2755.3,645.6" fill="#05F8F8"/><polygon points="2972.0,631.1 2991.3,645.1 2983.9,667.8 2960.0,667.8 2952.7,645.1" fill="#05F8F8"/><polygon points="3169.3,631.1 3188.6,645.1 3181.2,667.8 3157.4,667.8 3150.0,645.1" fill="#05F8F8"/>
<text x="2356.5" y="176.9" text-anchor="end" >1.6</text>
<text x="3190.5" y="176.9" text-anchor="start" >1.6</text>
<text x="2356.5" y="342.5" text-anchor="end" >1.2</text>
<text x="3190.5" y="342.5" text-anchor="start" >1.4</text>
<text x="2356.5" y="508.1" text-anchor="end" >0.8</text>
<text x="3190.5" y="508.1" text-anchor="start" >1.2</text>
<text x="2356.5" y="673.7" text-anchor="end" >0.4</text>
<text x="3190.5" y="673.7" text-anchor="start" >1.0</text>
<text x="2356.5" y="839.3" text-anchor="end" >0.0</text>
<text x="3190.5" y="839.3" text-anchor="start" >0.8</text>
<text x="2380.0" y="901.5" text-anchor="middle" >6</text>
<text x="2577.3" y="901.5" text-anchor="middle" >7</text>
<text x="2774.7" y="901.5" text-anchor="middle" >8</text>
<text x="2972.0" y="901.5" text-anchor="middle" >9</text>
<text x="3169.3" y="901.5" text-anchor="middle" >10</text>
<text x="2774.5" y="1004.9" text-anchor="middle" font-size="88.4">Iteration</text>
<g transform="translate(2204.4,1678.4) rotate(-90)" font-size="88"><text x="0" y="0" font-size="87.4">Compliance</text><text x="444.5" y="0" font-style="italic">C</text><text x="504" y="23.5" font-style="italic" font-size="60">s</text><rect x="445.5" y="-78.4" width="59" height="6.2"/></g>
<g transform="translate(3397.6,1612.7) rotate(-90)" font-size="88"><text x="0" y="0">Stiffness</text><text x="333.5" y="0" font-style="italic">ξ</text><text x="372" y="22" font-style="italic" font-size="60">s</text><rect x="329" y="-78.6" width="42.5" height="6.2"/></g>
<rect x="2380" y="1084.9" width="789.3" height="662.4" fill="none" stroke="#000" stroke-width="2.5"/>
<path d="M2380,1084.9 h-12.7 M3169.3,1084.9 h12.7 M2380,1167.7 h-7 M3169.3,1167.7 h7 M2380,1250.5 h-12.7 M3169.3,1250.5 h12.7 M2380,1333.3 h-7 M3169.3,1333.3 h7 M2380,1416.1 h-12.7 M3169.3,1416.1 h12.7 M2380,1498.9 h-7 M3169.3,1498.9 h7 M2380,1581.7 h-12.7 M3169.3,1581.7 h12.7 M2380,1664.5 h-7 M3169.3,1664.5 h7 M2380,1747.3 h-12.7 M3169.3,1747.3 h12.7 M2380.0,1747.3 v11 M2577.3,1747.3 v11 M2774.7,1747.3 v11 M2972.0,1747.3 v11 M3169.3,1747.3 v11 " stroke="#000" stroke-width="2.4" fill="none"/>
<path d="M2380.0,1332.4 L2577.3,1336.9 L2774.7,1337.9 L2972.0,1338.9 L3169.3,1339.5" stroke="#F60404" stroke-width="5.5" stroke-dasharray="24.5 35.8" stroke-linecap="round" stroke-linejoin="round" fill="none"/><rect x="2364.5" y="1316.9" width="31.0" height="31.0" fill="#F60404"/><rect x="2561.8" y="1321.4" width="31.0" height="31.0" fill="#F60404"/><rect x="2759.2" y="1322.4" width="31.0" height="31.0" fill="#F60404"/><rect x="2956.5" y="1323.4" width="31.0" height="31.0" fill="#F60404"/><rect x="3153.8" y="1324.0" width="31.0" height="31.0" fill="#F60404"/>
<path d="M2380.0,1336.0 L2577.3,1338.0 L2774.7,1338.5 L2972.0,1339.5 L3169.3,1339.5" stroke="#0CF50C" stroke-width="5.9" stroke-dasharray="31 21.6 3.3 21.4" stroke-linecap="round" stroke-linejoin="round" fill="none"/><circle cx="2380.0" cy="1336.0" r="16.9" fill="#0CF50C"/><circle cx="2577.3" cy="1338.0" r="16.9" fill="#0CF50C"/><circle cx="2774.7" cy="1338.5" r="16.9" fill="#0CF50C"/><circle cx="2972.0" cy="1339.5" r="16.9" fill="#0CF50C"/><circle cx="3169.3" cy="1339.5" r="16.9" fill="#0CF50C"/>
<path d="M2380.0,1579.7 L2577.3,1568.1 L2774.7,1567.1 L2972.0,1566.1 L3169.3,1565.5" stroke="#0505E8" stroke-width="5.2" stroke-dasharray="10 17.6" stroke-linecap="round" stroke-linejoin="round" fill="none"/><path d="M2380.0,1559.2 L2400.5,1579.7 L2380.0,1600.2 L2359.5,1579.7 Z" fill="#0505E8"/><path d="M2577.3,1547.6 L2597.8,1568.1 L2577.3,1588.6 L2556.8,1568.1 Z" fill="#0505E8"/><path d="M2774.7,1546.6 L2795.2,1567.1 L2774.7,1587.6 L2754.2,1567.1 Z" fill="#0505E8"/><path d="M2972.0,1545.6 L2992.5,1566.1 L2972.0,1586.6 L2951.5,1566.1 Z" fill="#0505E8"/><path d="M3169.3,1545.0 L3189.8,1565.5 L3169.3,1586.0 L3148.8,1565.5 Z" fill="#0505E8"/>
<path d="M2380.0,1617.3 L2577.3,1599.7 L2774.7,1589.7 L2972.0,1583.7 L3169.3,1579.7" stroke="#05F8F8" stroke-width="5.2" stroke-dasharray="22 19 4 21.5 4 21.5" stroke-linecap="round" stroke-linejoin="round" fill="none"/><polygon points="2380.0,1598.5 2399.3,1612.5 2391.9,1635.2 2368.1,1635.2 2360.7,1612.5" fill="#05F8F8"/><polygon points="2577.3,1580.9 2596.6,1594.9 2589.3,1617.6 2565.4,1617.6 2558.0,1594.9" fill="#05F8F8"/><polygon points="2774.7,1570.9 2794.0,1584.9 2786.6,1607.6 2762.7,1607.6 2755.3,1584.9" fill="#05F8F8"/><polygon points="2972.0,1564.9 2991.3,1578.9 2983.9,1601.6 2960.0,1601.6 2952.7,1578.9" fill="#05F8F8"/><polygon points="3169.3,1560.9 3188.6,1574.9 3181.2,1597.6 3157.4,1597.6 3150.0,1574.9" fill="#05F8F8"/>
<text x="2356.5" y="1110.9" text-anchor="end" >1.6</text>
<text x="3190.5" y="1110.9" text-anchor="start" >1.6</text>
<text x="2356.5" y="1276.5" text-anchor="end" >1.2</text>
<text x="3190.5" y="1276.5" text-anchor="start" >1.4</text>
<text x="2356.5" y="1442.1" text-anchor="end" >0.8</text>
<text x="3190.5" y="1442.1" text-anchor="start" >1.2</text>
<text x="2356.5" y="1607.7" text-anchor="end" >0.4</text>
<text x="3190.5" y="1607.7" text-anchor="start" >1.0</text>
<text x="2356.5" y="1773.3" text-anchor="end" >0.0</text>
<text x="3190.5" y="1773.3" text-anchor="start" >0.8</text>
<text x="2380.0" y="1835.5" text-anchor="middle" >6</text>
<text x="2577.3" y="1835.5" text-anchor="middle" >7</text>
<text x="2774.7" y="1835.5" text-anchor="middle" >8</text>
<text x="2972.0" y="1835.5" text-anchor="middle" >9</text>
<text x="3169.3" y="1835.5" text-anchor="middle" >10</text>
<text x="2774.5" y="1938.9" text-anchor="middle" font-size="88.4">Iteration</text>
<g transform="translate(2204.4,2612.4) rotate(-90)" font-size="88"><text x="0" y="0" font-size="87.4">Compliance</text><text x="444.5" y="0" font-style="italic">C</text><text x="504" y="23.5" font-style="italic" font-size="60">s</text><rect x="445.5" y="-78.4" width="59" height="6.2"/></g>
<g transform="translate(3397.6,2546.7) rotate(-90)" font-size="88"><text x="0" y="0">Stiffness</text><text x="333.5" y="0" font-style="italic">ξ</text><text x="372" y="22" font-style="italic" font-size="60">s</text><rect x="329" y="-78.6" width="42.5" height="6.2"/></g>
<rect x="2380" y="2018.9" width="789.3" height="662.4" fill="none" stroke="#000" stroke-width="2.5"/>
<path d="M2380,2018.9 h-12.7 M3169.3,2018.9 h12.7 M2380,2101.7 h-7 M3169.3,2101.7 h7 M2380,2184.5 h-12.7 M3169.3,2184.5 h12.7 M2380,2267.3 h-7 M3169.3,2267.3 h7 M2380,2350.1 h-12.7 M3169.3,2350.1 h12.7 M2380,2432.9 h-7 M3169.3,2432.9 h7 M2380,2515.7 h-12.7 M3169.3,2515.7 h12.7 M2380,2598.5 h-7 M3169.3,2598.5 h7 M2380,2681.3 h-12.7 M3169.3,2681.3 h12.7 M2380.0,2681.3 v11 M2577.3,2681.3 v11 M2774.7,2681.3 v11 M2972.0,2681.3 v11 M3169.3,2681.3 v11 " stroke="#000" stroke-width="2.4" fill="none"/>
<path d="M2380.0,2265.9 L2577.3,2269.9 L2774.7,2270.9 L2972.0,2270.9 L3169.3,2271.0" stroke="#F60404" stroke-width="5.5" stroke-dasharray="24.5 35.8" stroke-linecap="round" stroke-linejoin="round" fill="none"/><rect x="2364.5" y="2250.4" width="31.0" height="31.0" fill="#F60404"/><rect x="2561.8" y="2254.4" width="31.0" height="31.0" fill="#F60404"/><rect x="2759.2" y="2255.4" width="31.0" height="31.0" fill="#F60404"/><rect x="2956.5" y="2255.4" width="31.0" height="31.0" fill="#F60404"/><rect x="3153.8" y="2255.5" width="31.0" height="31.0" fill="#F60404"/>
<path d="M2380.0,2271.0 L2577.3,2271.0 L2774.7,2271.0 L2972.0,2271.0 L3169.3,2271.0" stroke="#0CF50C" stroke-width="5.9" stroke-dasharray="31 21.6 3.3 21.4" stroke-linecap="round" stroke-linejoin="round" fill="none"/><circle cx="2380.0" cy="2271.0" r="16.9" fill="#0CF50C"/><circle cx="2577.3" cy="2271.0" r="16.9" fill="#0CF50C"/><circle cx="2774.7" cy="2271.0" r="16.9" fill="#0CF50C"/><circle cx="2972.0" cy="2271.0" r="16.9" fill="#0CF50C"/><circle cx="3169.3" cy="2271.0" r="16.9" fill="#0CF50C"/>
<path d="M2380.0,2509.6 L2577.3,2504.6 L2774.7,2503.6 L2972.0,2503.0 L3169.3,2503.0" stroke="#0505E8" stroke-width="5.2" stroke-dasharray="10 17.6" stroke-linecap="round" stroke-linejoin="round" fill="none"/><path d="M2380.0,2489.1 L2400.5,2509.6 L2380.0,2530.1 L2359.5,2509.6 Z" fill="#0505E8"/><path d="M2577.3,2484.1 L2597.8,2504.6 L2577.3,2525.1 L2556.8,2504.6 Z" fill="#0505E8"/><path d="M2774.7,2483.1 L2795.2,2503.6 L2774.7,2524.1 L2754.2,2503.6 Z" fill="#0505E8"/><path d="M2972.0,2482.5 L2992.5,2503.0 L2972.0,2523.5 L2951.5,2503.0 Z" fill="#0505E8"/><path d="M3169.3,2482.5 L3189.8,2503.0 L3169.3,2523.5 L3148.8,2503.0 Z" fill="#0505E8"/>
<path d="M2380.0,2534.7 L2577.3,2522.1 L2774.7,2517.1 L2972.0,2514.7 L3169.3,2513.6" stroke="#05F8F8" stroke-width="5.2" stroke-dasharray="22 19 4 21.5 4 21.5" stroke-linecap="round" stroke-linejoin="round" fill="none"/><polygon points="2380.0,2515.9 2399.3,2529.9 2391.9,2552.6 2368.1,2552.6 2360.7,2529.9" fill="#05F8F8"/><polygon points="2577.3,2503.3 2596.6,2517.3 2589.3,2540.0 2565.4,2540.0 2558.0,2517.3" fill="#05F8F8"/><polygon points="2774.7,2498.3 2794.0,2512.3 2786.6,2535.0 2762.7,2535.0 2755.3,2512.3" fill="#05F8F8"/><polygon points="2972.0,2495.9 2991.3,2509.9 2983.9,2532.6 2960.0,2532.6 2952.7,2509.9" fill="#05F8F8"/><polygon points="3169.3,2494.8 3188.6,2508.8 3181.2,2531.5 3157.4,2531.5 3150.0,2508.8" fill="#05F8F8"/>
<text x="2356.5" y="2044.9" text-anchor="end" >1.6</text>
<text x="3190.5" y="2044.9" text-anchor="start" >1.6</text>
<text x="2356.5" y="2210.5" text-anchor="end" >1.2</text>
<text x="3190.5" y="2210.5" text-anchor="start" >1.4</text>
<text x="2356.5" y="2376.1" text-anchor="end" >0.8</text>
<text x="3190.5" y="2376.1" text-anchor="start" >1.2</text>
<text x="2356.5" y="2541.7" text-anchor="end" >0.4</text>
<text x="3190.5" y="2541.7" text-anchor="start" >1.0</text>
<text x="2356.5" y="2707.3" text-anchor="end" >0.0</text>
<text x="3190.5" y="2707.3" text-anchor="start" >0.8</text>
<text x="2380.0" y="2769.5" text-anchor="middle" >6</text>
<text x="2577.3" y="2769.5" text-anchor="middle" >7</text>
<text x="2774.7" y="2769.5" text-anchor="middle" >8</text>
<text x="2972.0" y="2769.5" text-anchor="middle" >9</text>
<text x="3169.3" y="2769.5" text-anchor="middle" >10</text>
<text x="2774.5" y="2872.9" text-anchor="middle" font-size="88.4">Iteration</text>
<g transform="translate(2204.4,3546.4) rotate(-90)" font-size="88"><text x="0" y="0" font-size="87.4">Compliance</text><text x="444.5" y="0" font-style="italic">C</text><text x="504" y="23.5" font-style="italic" font-size="60">s</text><rect x="445.5" y="-78.4" width="59" height="6.2"/></g>
<g transform="translate(3397.6,3480.7) rotate(-90)" font-size="88"><text x="0" y="0">Stiffness</text><text x="333.5" y="0" font-style="italic">ξ</text><text x="372" y="22" font-style="italic" font-size="60">s</text><rect x="329" y="-78.6" width="42.5" height="6.2"/></g>
<rect x="2380" y="2952.9" width="789.3" height="662.4" fill="none" stroke="#000" stroke-width="2.5"/>
<path d="M2380,2952.9 h-12.7 M3169.3,2952.9 h12.7 M2380,3035.7 h-7 M3169.3,3035.7 h7 M2380,3118.5 h-12.7 M3169.3,3118.5 h12.7 M2380,3201.3 h-7 M3169.3,3201.3 h7 M2380,3284.1 h-12.7 M3169.3,3284.1 h12.7 M2380,3366.9 h-7 M3169.3,3366.9 h7 M2380,3449.7 h-12.7 M3169.3,3449.7 h12.7 M2380,3532.5 h-7 M3169.3,3532.5 h7 M2380,3615.3 h-12.7 M3169.3,3615.3 h12.7 M2380.0,3615.3 v11 M2577.3,3615.3 v11 M2774.7,3615.3 v11 M2972.0,3615.3 v11 M3169.3,3615.3 v11 " stroke="#000" stroke-width="2.4" fill="none"/>
<path d="M2380.0,3206.5 L2577.3,3207.9 L2774.7,3208.1 L2972.0,3212.1 L3169.3,3210.6" stroke="#F60404" stroke-width="5.5" stroke-dasharray="24.5 35.8" stroke-linecap="round" stroke-linejoin="round" fill="none"/><rect x="2364.5" y="3191.0" width="31.0" height="31.0" fill="#F60404"/><rect x="2561.8" y="3192.4" width="31.0" height="31.0" fill="#F60404"/><rect x="2759.2" y="3192.6" width="31.0" height="31.0" fill="#F60404"/><rect x="2956.5" y="3196.6" width="31.0" height="31.0" fill="#F60404"/><rect x="3153.8" y="3195.1" width="31.0" height="31.0" fill="#F60404"/>
<path d="M2380.0,3212.1 L2577.3,3212.6 L2774.7,3213.6 L2972.0,3213.1 L3169.3,3212.6" stroke="#0CF50C" stroke-width="5.9" stroke-dasharray="31 21.6 3.3 21.4" stroke-linecap="round" stroke-linejoin="round" fill="none"/><circle cx="2380.0" cy="3212.1" r="16.9" fill="#0CF50C"/><circle cx="2577.3" cy="3212.6" r="16.9" fill="#0CF50C"/><circle cx="2774.7" cy="3213.6" r="16.9" fill="#0CF50C"/><circle cx="2972.0" cy="3213.1" r="16.9" fill="#0CF50C"/><circle cx="3169.3" cy="3212.6" r="16.9" fill="#0CF50C"/>
<path d="M2380.0,3430.5 L2577.3,3430.0 L2774.7,3428.9 L2972.0,3420.5 L3169.3,3424.9" stroke="#0505E8" stroke-width="5.2" stroke-dasharray="10 17.6" stroke-linecap="round" stroke-linejoin="round" fill="none"/><path d="M2380.0,3410.0 L2400.5,3430.5 L2380.0,3451.0 L2359.5,3430.5 Z" fill="#0505E8"/><path d="M2577.3,3409.5 L2597.8,3430.0 L2577.3,3450.5 L2556.8,3430.0 Z" fill="#0505E8"/><path d="M2774.7,3408.4 L2795.2,3428.9 L2774.7,3449.4 L2754.2,3428.9 Z" fill="#0505E8"/><path d="M2972.0,3400.0 L2992.5,3420.5 L2972.0,3441.0 L2951.5,3420.5 Z" fill="#0505E8"/><path d="M3169.3,3404.4 L3189.8,3424.9 L3169.3,3445.4 L3148.8,3424.9 Z" fill="#0505E8"/>
<path d="M2380.0,3530.9 L2577.3,3481.8 L2774.7,3460.2 L2972.0,3451.6 L3169.3,3448.1" stroke="#05F8F8" stroke-width="5.2" stroke-dasharray="22 19 4 21.5 4 21.5" stroke-linecap="round" stroke-linejoin="round" fill="none"/><polygon points="2380.0,3512.1 2399.3,3526.1 2391.9,3548.8 2368.1,3548.8 2360.7,3526.1" fill="#05F8F8"/><polygon points="2577.3,3463.0 2596.6,3477.0 2589.3,3499.7 2565.4,3499.7 2558.0,3477.0" fill="#05F8F8"/><polygon points="2774.7,3441.4 2794.0,3455.4 2786.6,3478.1 2762.7,3478.1 2755.3,3455.4" fill="#05F8F8"/><polygon points="2972.0,3432.8 2991.3,3446.8 2983.9,3469.5 2960.0,3469.5 2952.7,3446.8" fill="#05F8F8"/><polygon points="3169.3,3429.3 3188.6,3443.3 3181.2,3466.0 3157.4,3466.0 3150.0,3443.3" fill="#05F8F8"/>
<text x="2356.5" y="2978.9" text-anchor="end" >1.6</text>
<text x="3190.5" y="2978.9" text-anchor="start" >1.6</text>
<text x="2356.5" y="3144.5" text-anchor="end" >1.2</text>
<text x="3190.5" y="3144.5" text-anchor="start" >1.4</text>
<text x="2356.5" y="3310.1" text-anchor="end" >0.8</text>
<text x="3190.5" y="3310.1" text-anchor="start" >1.2</text>
<text x="2356.5" y="3475.7" text-anchor="end" >0.4</text>
<text x="3190.5" y="3475.7" text-anchor="start" >1.0</text>
<text x="2356.5" y="3641.3" text-anchor="end" >0.0</text>
<text x="3190.5" y="3641.3" text-anchor="start" >0.8</text>
<text x="2380.0" y="3703.5" text-anchor="middle" >6</text>
<text x="2577.3" y="3703.5" text-anchor="middle" >7</text>
<text x="2774.7" y="3703.5" text-anchor="middle" >8</text>
<text x="2972.0" y="3703.5" text-anchor="middle" >9</text>
<text x="3169.3" y="3703.5" text-anchor="middle" >10</text>
<text x="2774.5" y="3806.9" text-anchor="middle" font-size="88.4">Iteration</text>
<path d="M154.9,3899.5 L183.8,3899.5" stroke="#F60404" stroke-width="6.5" stroke-linecap="round" fill="none"/>
<path d="M225.2,3899.5 L228.8,3899.5" stroke="#F60404" stroke-width="6.5" stroke-linecap="round" fill="none"/>
<path d="M296.2,3899.5 L324.8,3899.5" stroke="#F60404" stroke-width="6.5" stroke-linecap="round" fill="none"/>
<rect x="227" y="3879.0" width="43" height="41" fill="#F60404"/>
<path d="M1113.2,3899.5 L1149.5,3899.5" stroke="#0CF50C" stroke-width="6.5" stroke-linecap="round" fill="none"/>
<path d="M1174.2,3899.5 L1186.8,3899.5" stroke="#0CF50C" stroke-width="6.5" stroke-linecap="round" fill="none"/>
<path d="M1228.2,3899.5 L1238.8,3899.5" stroke="#0CF50C" stroke-width="6.5" stroke-linecap="round" fill="none"/>
<path d="M1263.2,3899.5 L1268.8,3899.5" stroke="#0CF50C" stroke-width="6.5" stroke-linecap="round" fill="none"/>
<path d="M1289.8,3899.5 L1302.8,3899.5" stroke="#0CF50C" stroke-width="6.5" stroke-linecap="round" fill="none"/>
<circle cx="1207.4" cy="3899.5" r="24.8" fill="#0CF50C"/>
<path d="M1773.0,3899.5 L1786.0,3899.5" stroke="#0505E8" stroke-width="6.5" stroke-linecap="round" fill="none"/>
<path d="M1812.0,3899.5 L1836.8,3899.5" stroke="#0505E8" stroke-width="6.5" stroke-linecap="round" fill="none"/>
<path d="M1893.2,3899.5 L1905.8,3899.5" stroke="#0505E8" stroke-width="6.5" stroke-linecap="round" fill="none"/>
<path d="M1929.2,3899.5 L1944.8,3899.5" stroke="#0505E8" stroke-width="6.5" stroke-linecap="round" fill="none"/>
<path d="M1866.3,3869.0 L1896.8,3899.5 L1866.3,3930.0 L1835.8,3899.5 Z" fill="#0505E8"/>
<path d="M2718.1,3899.5 L2751.4,3899.5" stroke="#05F8F8" stroke-width="6.5" stroke-linecap="round" fill="none"/>
<path d="M2779.1,3899.5 L2786.8,3899.5" stroke="#05F8F8" stroke-width="6.5" stroke-linecap="round" fill="none"/>
<path d="M2850.2,3899.5 L2882.8,3899.5" stroke="#05F8F8" stroke-width="6.5" stroke-linecap="round" fill="none"/>
<polygon points="2811.9,3872.3 2840.0,3892.7 2829.2,3925.7 2794.6,3925.7 2783.8,3892.7" fill="#05F8F8"/>
<text x="363" y="3925.6" font-size="85.2">SaConvLSTM</text>
<text x="858.0" y="3925.6" font-size="85.2" textLength="94" lengthAdjust="spacingAndGlyphs">—</text>
<text x="950" y="3925.6" font-size="85.2" font-style="italic">C</text>
<text x="1004" y="3947" font-size="59" font-style="italic">s</text>
<rect x="949.5" y="3854" width="57.0" height="5.2"/>
<text x="1322.8" y="3925.6" font-size="85.2">SIMP</text>
<text x="1517.5" y="3925.6" font-size="85.2" textLength="94" lengthAdjust="spacingAndGlyphs">—</text>
<text x="1610" y="3925.6" font-size="85.2" font-style="italic">C</text>
<text x="1664" y="3947" font-size="59" font-style="italic">s</text>
<rect x="1609" y="3854" width="57.0" height="5.2"/>
<text x="1981.8" y="3925.6" font-size="85.2">SaConvLSTM</text>
<text x="2476.2" y="3925.6" font-size="85.2" textLength="94" lengthAdjust="spacingAndGlyphs">—</text>
<text x="2569" y="3925.6" font-size="85.2" font-style="italic">ξ</text>
<text x="2608.5" y="3947" font-size="59" font-style="italic">s</text>
<rect x="2567.7" y="3854" width="43.0" height="5.2"/>
<text x="2926" y="3925.6" font-size="85.2">SIMP</text>
<text x="3121.5" y="3925.6" font-size="85.2" textLength="94" lengthAdjust="spacingAndGlyphs">—</text>
<text x="3214" y="3925.6" font-size="85.2" font-style="italic">ξ</text>
<text x="3252.5" y="3947" font-size="59" font-style="italic">s</text>
<rect x="3213" y="3854" width="41.8" height="5.2"/>
</svg>
</body></html>
